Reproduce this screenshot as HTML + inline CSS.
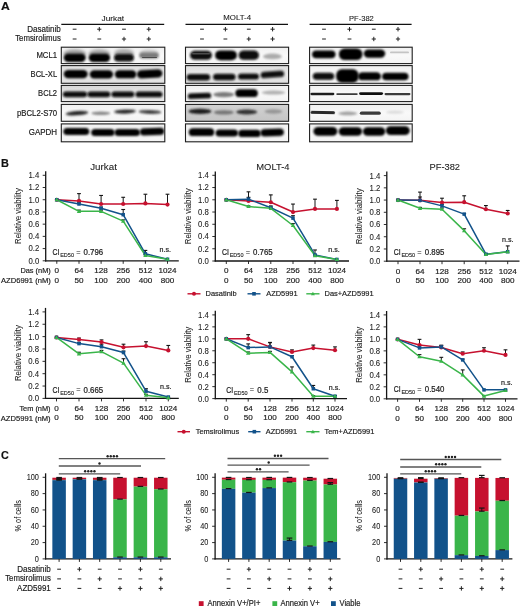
<!DOCTYPE html>
<html><head><meta charset="utf-8"><style>
html,body{margin:0;padding:0;background:#fff;}
svg{display:block;font-family:"Liberation Sans",sans-serif;}
</style></head><body>
<svg style="will-change:transform" width="520" height="608" viewBox="0 0 520 608">
<rect width="520" height="608" fill="#fff"/>
<text x="1.1" y="10.4" font-size="11.2" text-anchor="start" fill="#111" font-weight="bold" textLength="8.8" lengthAdjust="spacingAndGlyphs" stroke="#111" stroke-width="0.18" >A</text>
<text x="0.9" y="167.3" font-size="11" text-anchor="start" fill="#111" font-weight="bold" textLength="7.9" lengthAdjust="spacingAndGlyphs" stroke="#111" stroke-width="0.18" >B</text>
<text x="1.1" y="459.1" font-size="11" text-anchor="start" fill="#111" font-weight="bold" textLength="7.8" lengthAdjust="spacingAndGlyphs" stroke="#111" stroke-width="0.18" >C</text>
<text x="112.8" y="20.6" font-size="7.7" text-anchor="middle" fill="#1c1c1c" textLength="22.6" lengthAdjust="spacingAndGlyphs" stroke="#1c1c1c" stroke-width="0.1" >Jurkat</text>
<line x1="61.3" y1="24.3" x2="164.2" y2="24.3" stroke="#111" stroke-width="1.3" />
<line x1="72.7" y1="29.2" x2="76.5" y2="29.2" stroke="#222" stroke-width="1.0" />
<line x1="72.7" y1="39" x2="76.5" y2="39" stroke="#222" stroke-width="1.0" />
<line x1="97.2" y1="29.2" x2="101.4" y2="29.2" stroke="#222" stroke-width="1.0" />
<line x1="99.3" y1="27" x2="99.3" y2="31.4" stroke="#222" stroke-width="1.0" />
<line x1="97.4" y1="39" x2="101.2" y2="39" stroke="#222" stroke-width="1.0" />
<line x1="122.1" y1="29.2" x2="125.9" y2="29.2" stroke="#222" stroke-width="1.0" />
<line x1="121.9" y1="39" x2="126.1" y2="39" stroke="#222" stroke-width="1.0" />
<line x1="124" y1="36.8" x2="124" y2="41.2" stroke="#222" stroke-width="1.0" />
<line x1="146.7" y1="29.2" x2="150.9" y2="29.2" stroke="#222" stroke-width="1.0" />
<line x1="148.8" y1="27" x2="148.8" y2="31.4" stroke="#222" stroke-width="1.0" />
<line x1="146.7" y1="39" x2="150.9" y2="39" stroke="#222" stroke-width="1.0" />
<line x1="148.8" y1="36.8" x2="148.8" y2="41.2" stroke="#222" stroke-width="1.0" />
<text x="237.15" y="20.2" font-size="7.7" text-anchor="middle" fill="#1c1c1c" textLength="27.7" lengthAdjust="spacingAndGlyphs" stroke="#1c1c1c" stroke-width="0.1" >MOLT-4</text>
<line x1="185.5" y1="24.3" x2="288" y2="24.3" stroke="#111" stroke-width="1.3" />
<line x1="200.1" y1="29.2" x2="203.9" y2="29.2" stroke="#222" stroke-width="1.0" />
<line x1="200.1" y1="39" x2="203.9" y2="39" stroke="#222" stroke-width="1.0" />
<line x1="223.3" y1="29.2" x2="227.5" y2="29.2" stroke="#222" stroke-width="1.0" />
<line x1="225.4" y1="27" x2="225.4" y2="31.4" stroke="#222" stroke-width="1.0" />
<line x1="223.5" y1="39" x2="227.3" y2="39" stroke="#222" stroke-width="1.0" />
<line x1="246.9" y1="29.2" x2="250.7" y2="29.2" stroke="#222" stroke-width="1.0" />
<line x1="246.7" y1="39" x2="250.9" y2="39" stroke="#222" stroke-width="1.0" />
<line x1="248.8" y1="36.8" x2="248.8" y2="41.2" stroke="#222" stroke-width="1.0" />
<line x1="270.5" y1="29.2" x2="274.7" y2="29.2" stroke="#222" stroke-width="1.0" />
<line x1="272.6" y1="27" x2="272.6" y2="31.4" stroke="#222" stroke-width="1.0" />
<line x1="270.5" y1="39" x2="274.7" y2="39" stroke="#222" stroke-width="1.0" />
<line x1="272.6" y1="36.8" x2="272.6" y2="41.2" stroke="#222" stroke-width="1.0" />
<text x="361.45" y="20.5" font-size="8" text-anchor="middle" fill="#1c1c1c" textLength="24.7" lengthAdjust="spacingAndGlyphs" stroke="#1c1c1c" stroke-width="0.1" >PF-382</text>
<line x1="309.6" y1="24.3" x2="411.6" y2="24.3" stroke="#111" stroke-width="1.3" />
<line x1="322.1" y1="29.2" x2="325.9" y2="29.2" stroke="#222" stroke-width="1.0" />
<line x1="322.1" y1="39" x2="325.9" y2="39" stroke="#222" stroke-width="1.0" />
<line x1="347.4" y1="29.2" x2="351.6" y2="29.2" stroke="#222" stroke-width="1.0" />
<line x1="349.5" y1="27" x2="349.5" y2="31.4" stroke="#222" stroke-width="1.0" />
<line x1="347.6" y1="39" x2="351.4" y2="39" stroke="#222" stroke-width="1.0" />
<line x1="371.9" y1="29.2" x2="375.7" y2="29.2" stroke="#222" stroke-width="1.0" />
<line x1="371.7" y1="39" x2="375.9" y2="39" stroke="#222" stroke-width="1.0" />
<line x1="373.8" y1="36.8" x2="373.8" y2="41.2" stroke="#222" stroke-width="1.0" />
<line x1="395.9" y1="29.2" x2="400.1" y2="29.2" stroke="#222" stroke-width="1.0" />
<line x1="398" y1="27" x2="398" y2="31.4" stroke="#222" stroke-width="1.0" />
<line x1="395.9" y1="39" x2="400.1" y2="39" stroke="#222" stroke-width="1.0" />
<line x1="398" y1="36.8" x2="398" y2="41.2" stroke="#222" stroke-width="1.0" />
<text x="60.8" y="31.5" font-size="8.6" text-anchor="end" fill="#1c1c1c" textLength="33.5" lengthAdjust="spacingAndGlyphs" stroke="#1c1c1c" stroke-width="0.18" >Dasatinib</text>
<text x="60.8" y="41.3" font-size="8.6" text-anchor="end" fill="#1c1c1c" textLength="45.6" lengthAdjust="spacingAndGlyphs" stroke="#1c1c1c" stroke-width="0.18" >Temsirolimus</text>
<text x="57.1" y="58.1" font-size="8.3" text-anchor="end" fill="#1c1c1c" textLength="20.7" lengthAdjust="spacingAndGlyphs" stroke="#1c1c1c" stroke-width="0.18" >MCL1</text>
<text x="57.1" y="77.1" font-size="8.3" text-anchor="end" fill="#1c1c1c" textLength="26.5" lengthAdjust="spacingAndGlyphs" stroke="#1c1c1c" stroke-width="0.18" >BCL-XL</text>
<text x="57.1" y="96" font-size="8.3" text-anchor="end" fill="#1c1c1c" textLength="19" lengthAdjust="spacingAndGlyphs" stroke="#1c1c1c" stroke-width="0.18" >BCL2</text>
<text x="57.1" y="115.6" font-size="8.3" text-anchor="end" fill="#1c1c1c" textLength="40.1" lengthAdjust="spacingAndGlyphs" stroke="#1c1c1c" stroke-width="0.18" >pBCL2-S70</text>
<text x="57.1" y="135.2" font-size="8.3" text-anchor="end" fill="#1c1c1c" textLength="28.3" lengthAdjust="spacingAndGlyphs" stroke="#1c1c1c" stroke-width="0.18" >GAPDH</text>
<defs>
<filter id="bl6" x="-50%" y="-150%" width="200%" height="400%"><feGaussianBlur stdDeviation="0.6"/></filter>
<filter id="bl7" x="-50%" y="-150%" width="200%" height="400%"><feGaussianBlur stdDeviation="0.7"/></filter>
<filter id="bl8" x="-50%" y="-150%" width="200%" height="400%"><feGaussianBlur stdDeviation="0.8"/></filter>
<filter id="bl8" x="-50%" y="-150%" width="200%" height="400%"><feGaussianBlur stdDeviation="0.85"/></filter>
<filter id="bl9" x="-50%" y="-150%" width="200%" height="400%"><feGaussianBlur stdDeviation="0.9"/></filter>
<filter id="bl10" x="-50%" y="-150%" width="200%" height="400%"><feGaussianBlur stdDeviation="1.0"/></filter>
<filter id="bl11" x="-50%" y="-150%" width="200%" height="400%"><feGaussianBlur stdDeviation="1.1"/></filter>
<filter id="bl12" x="-50%" y="-150%" width="200%" height="400%"><feGaussianBlur stdDeviation="1.2"/></filter>
<filter id="bl18" x="-50%" y="-150%" width="200%" height="400%"><feGaussianBlur stdDeviation="1.8"/></filter>
<linearGradient id="gbg" x1="0" y1="0" x2="0" y2="1"><stop offset="0" stop-color="#f0f0f0"/><stop offset="0.5" stop-color="#f9f9f9"/><stop offset="1" stop-color="#f4f4f4"/></linearGradient>
<linearGradient id="gbgg" x1="0" y1="0" x2="0" y2="1"><stop offset="0" stop-color="#dedede"/><stop offset="0.5" stop-color="#eaeaea"/><stop offset="1" stop-color="#e0e0e0"/></linearGradient>
<linearGradient id="gbgt" x1="0" y1="0" x2="0" y2="1"><stop offset="0" stop-color="#d6d6d6"/><stop offset="0.6" stop-color="#eeeeee"/><stop offset="1" stop-color="#e8e8e8"/></linearGradient>
<linearGradient id="gbg2" x1="0" y1="0" x2="0" y2="1"><stop offset="0" stop-color="#d2d2d2"/><stop offset="1" stop-color="#c4c4c4"/></linearGradient>
<clipPath id="c0"><rect x="61.3" y="47.2" width="103.5" height="16.4"/></clipPath>
<clipPath id="c1"><rect x="61.3" y="65.6" width="103.5" height="17.7"/></clipPath>
<clipPath id="c2"><rect x="61.3" y="85.4" width="103.5" height="16.2"/></clipPath>
<clipPath id="c3"><rect x="61.3" y="104.4" width="103.5" height="16.9"/></clipPath>
<clipPath id="c4"><rect x="61.3" y="123.9" width="103.5" height="17.9"/></clipPath>
<clipPath id="c5"><rect x="185.5" y="47.2" width="103.1" height="16.4"/></clipPath>
<clipPath id="c6"><rect x="185.5" y="65.6" width="103.1" height="17.7"/></clipPath>
<clipPath id="c7"><rect x="185.5" y="85.4" width="103.1" height="16.2"/></clipPath>
<clipPath id="c8"><rect x="185.5" y="104.4" width="103.1" height="16.9"/></clipPath>
<clipPath id="c9"><rect x="185.5" y="123.9" width="103.1" height="17.9"/></clipPath>
<clipPath id="c10"><rect x="309.6" y="47.2" width="102.6" height="16.4"/></clipPath>
<clipPath id="c11"><rect x="309.6" y="65.6" width="102.6" height="17.7"/></clipPath>
<clipPath id="c12"><rect x="309.6" y="85.4" width="102.6" height="16.2"/></clipPath>
<clipPath id="c13"><rect x="309.6" y="104.4" width="102.6" height="16.9"/></clipPath>
<clipPath id="c14"><rect x="309.6" y="123.9" width="102.6" height="17.9"/></clipPath>
</defs>
<rect x="61.3" y="47.2" width="103.5" height="16.4" fill="url(#gbg)"/>
<g clip-path="url(#c0)">
<ellipse cx="74.7" cy="54" rx="11.5" ry="4.5" fill="#9a9a9a" filter="url(#bl18)"/>
<ellipse cx="99.4" cy="54" rx="11" ry="4.5" fill="#a0a0a0" filter="url(#bl18)"/>
<ellipse cx="124" cy="53.5" rx="10" ry="4.5" fill="#a8a8a8" filter="url(#bl18)"/>
<ellipse cx="149" cy="53" rx="9.5" ry="3.5" fill="#c8c8c8" filter="url(#bl18)"/>
<rect x="63.7" y="53.7" width="22" height="8.2" rx="4.51" ry="4.1" fill="#030303" filter="url(#bl9)"/>
<rect x="88.65" y="53.7" width="21.5" height="8.2" rx="4.51" ry="4.1" fill="#030303" filter="url(#bl9)"/>
<rect x="114" y="54" width="20" height="7.6" rx="4.18" ry="3.8" fill="#080808" filter="url(#bl9)"/>
<rect x="139.25" y="52.6" width="19.5" height="6" rx="3.3" ry="3" fill="#7a7a7a" filter="url(#bl10)"/>
<rect x="142" y="56.9" width="15" height="1" rx="0.55" ry="0.5" fill="#4a4a4a" filter="url(#bl6)"/>
</g>
<rect x="61.3" y="47.2" width="103.5" height="16.4" fill="none" stroke="#1e1e1e" stroke-width="1.1"/>
<rect x="61.3" y="65.6" width="103.5" height="17.7" fill="url(#gbgg)"/>
<g clip-path="url(#c1)">
<rect x="63.7" y="70" width="24" height="8.2" rx="4.51" ry="4.1" fill="#060606" filter="url(#bl9)"/>
<rect x="89.7" y="70.2" width="23.4" height="8.2" rx="4.51" ry="4.1" fill="#060606" filter="url(#bl9)"/>
<rect x="114.85" y="70.3" width="21.5" height="8" rx="4.4" ry="4" fill="#060606" filter="url(#bl9)"/>
<rect x="136.95" y="69.8" width="25.5" height="8.2" rx="4.51" ry="4.1" fill="#060606" filter="url(#bl9)" transform="rotate(-3 149.7 73.9)"/>
</g>
<rect x="61.3" y="65.6" width="103.5" height="17.7" fill="none" stroke="#1e1e1e" stroke-width="1.1"/>
<rect x="61.3" y="85.4" width="103.5" height="16.2" fill="url(#gbgt)"/>
<g clip-path="url(#c2)">
<rect x="62.85" y="91.4" width="24.3" height="5.8" rx="3.19" ry="2.9" fill="#080808" filter="url(#bl9)"/>
<rect x="87.4" y="91.4" width="23" height="5.8" rx="3.19" ry="2.9" fill="#080808" filter="url(#bl9)"/>
<rect x="111.4" y="91.4" width="23" height="5.8" rx="3.19" ry="2.9" fill="#080808" filter="url(#bl9)"/>
<rect x="135.5" y="91.5" width="27" height="5.8" rx="3.19" ry="2.9" fill="#0c0c0c" filter="url(#bl9)"/>
</g>
<rect x="61.3" y="85.4" width="103.5" height="16.2" fill="none" stroke="#1e1e1e" stroke-width="1.1"/>
<rect x="61.3" y="104.4" width="103.5" height="16.9" fill="url(#gbg)"/>
<g clip-path="url(#c3)">
<ellipse cx="77" cy="113.2" rx="11.5" ry="2.1" fill="#222" filter="url(#bl8)" transform="rotate(-4 77 113.2)"/>
<ellipse cx="100.8" cy="113.3" rx="9.5" ry="1.7" fill="#888" filter="url(#bl8)"/>
<ellipse cx="125" cy="111.6" rx="11" ry="2.1" fill="#2a2a2a" filter="url(#bl8)" transform="rotate(-2 125 111.6)"/>
<ellipse cx="150" cy="111.9" rx="11.5" ry="2" fill="#3c3c3c" filter="url(#bl8)" transform="rotate(2 150 111.9)"/>
</g>
<rect x="61.3" y="104.4" width="103.5" height="16.9" fill="none" stroke="#1e1e1e" stroke-width="1.1"/>
<rect x="61.3" y="123.9" width="103.5" height="17.9" fill="url(#gbg)"/>
<g clip-path="url(#c4)">
<rect x="63.3" y="128" width="26" height="7" rx="3.85" ry="3.5" fill="#040404" filter="url(#bl9)"/>
<rect x="91.15" y="129.1" width="23.5" height="7" rx="3.85" ry="3.5" fill="#040404" filter="url(#bl9)"/>
<rect x="114.55" y="128.9" width="25.5" height="7.2" rx="3.96" ry="3.6" fill="#040404" filter="url(#bl9)"/>
<rect x="139.85" y="128" width="24.5" height="7.2" rx="3.96" ry="3.6" fill="#040404" filter="url(#bl9)" transform="rotate(-2 152.1 131.6)"/>
</g>
<rect x="61.3" y="123.9" width="103.5" height="17.9" fill="none" stroke="#1e1e1e" stroke-width="1.1"/>
<rect x="185.5" y="47.2" width="103.1" height="16.4" fill="url(#gbg)"/>
<g clip-path="url(#c5)">
<rect x="190" y="50.7" width="22" height="9" rx="4.95" ry="4.5" fill="#101010" filter="url(#bl9)"/>
<rect x="192" y="53" width="18" height="1.4" rx="0.77" ry="0.7" fill="#4c4c4c" filter="url(#bl7)"/>
<rect x="215.25" y="50.4" width="21.5" height="9.8" rx="5.38" ry="3.92" fill="#040404" filter="url(#bl9)"/>
<rect x="238.8" y="50.6" width="20" height="9.2" rx="5" ry="3.68" fill="#080808" filter="url(#bl9)"/>
<ellipse cx="272.4" cy="56.4" rx="9.5" ry="2.8" fill="#ababab" filter="url(#bl12)"/>
</g>
<rect x="185.5" y="47.2" width="103.1" height="16.4" fill="none" stroke="#1e1e1e" stroke-width="1.1"/>
<rect x="185.5" y="65.6" width="103.1" height="17.7" fill="url(#gbgg)"/>
<g clip-path="url(#c6)">
<rect x="186.65" y="74.1" width="23.5" height="6.4" rx="3.52" ry="3.2" fill="#0c0c0c" filter="url(#bl9)"/>
<rect x="213.05" y="73.8" width="22.5" height="6.4" rx="3.52" ry="3.2" fill="#0c0c0c" filter="url(#bl9)"/>
<rect x="238" y="73.4" width="21" height="6.2" rx="3.41" ry="3.1" fill="#101010" filter="url(#bl9)"/>
<rect x="260.65" y="71.2" width="23.5" height="6.4" rx="3.52" ry="3.2" fill="#0c0c0c" filter="url(#bl9)" transform="rotate(-4 272.4 74.4)"/>
</g>
<rect x="185.5" y="65.6" width="103.1" height="17.7" fill="none" stroke="#1e1e1e" stroke-width="1.1"/>
<rect x="185.5" y="85.4" width="103.1" height="16.2" fill="url(#gbg)"/>
<g clip-path="url(#c7)">
<rect x="187.75" y="93.05" width="23.5" height="5.7" rx="3.14" ry="2.85" fill="#101010" filter="url(#bl9)" transform="rotate(-2 199.5 95.9)"/>
<ellipse cx="223.7" cy="94.6" rx="10.5" ry="2.6" fill="#7a7a7a" filter="url(#bl11)"/>
<rect x="235.35" y="89.3" width="22.5" height="7.8" rx="4.29" ry="3.9" fill="#030303" filter="url(#bl9)"/>
<ellipse cx="273.5" cy="92.6" rx="12" ry="2" fill="#b0b0b0" filter="url(#bl11)"/>
</g>
<rect x="185.5" y="85.4" width="103.1" height="16.2" fill="none" stroke="#1e1e1e" stroke-width="1.1"/>
<rect x="185.5" y="104.4" width="103.1" height="16.9" fill="url(#gbg2)"/>
<g clip-path="url(#c8)">
<ellipse cx="200" cy="111.4" rx="11.5" ry="2.6" fill="#1e1e1e" filter="url(#bl8)"/>
<ellipse cx="223.8" cy="112.4" rx="10" ry="2.2" fill="#747474" filter="url(#bl9)"/>
<ellipse cx="246.7" cy="112" rx="10.5" ry="2.6" fill="#333" filter="url(#bl8)"/>
<ellipse cx="273.5" cy="111.5" rx="9" ry="2.2" fill="#959595" filter="url(#bl10)"/>
</g>
<rect x="185.5" y="104.4" width="103.1" height="16.9" fill="none" stroke="#1e1e1e" stroke-width="1.1"/>
<rect x="185.5" y="123.9" width="103.1" height="17.9" fill="url(#gbg)"/>
<g clip-path="url(#c9)">
<rect x="188.75" y="128.3" width="25.5" height="7.8" rx="4.29" ry="3.9" fill="#040404" filter="url(#bl9)"/>
<rect x="215.55" y="129.4" width="22.5" height="7.2" rx="3.96" ry="3.6" fill="#040404" filter="url(#bl9)"/>
<rect x="238.25" y="129.8" width="22.5" height="7.2" rx="3.96" ry="3.6" fill="#040404" filter="url(#bl9)"/>
<rect x="260.45" y="128.7" width="23.5" height="7.6" rx="4.18" ry="3.8" fill="#040404" filter="url(#bl9)" transform="rotate(-2 272.2 132.5)"/>
</g>
<rect x="185.5" y="123.9" width="103.1" height="17.9" fill="none" stroke="#1e1e1e" stroke-width="1.1"/>
<rect x="309.6" y="47.2" width="102.6" height="16.4" fill="url(#gbg)"/>
<g clip-path="url(#c10)">
<rect x="312.05" y="50.4" width="23.5" height="7.8" rx="4.29" ry="3.9" fill="#050505" filter="url(#bl9)"/>
<rect x="338.95" y="48.6" width="23.5" height="11.4" rx="5.88" ry="5.13" fill="#020202" filter="url(#bl9)"/>
<rect x="363.75" y="49.5" width="21.5" height="8.2" rx="4.51" ry="4.1" fill="#050505" filter="url(#bl9)"/>
<rect x="390" y="51.45" width="19" height="1.9" rx="1.04" ry="0.95" fill="#c4c4c4" filter="url(#bl6)"/>
</g>
<rect x="309.6" y="47.2" width="102.6" height="16.4" fill="none" stroke="#1e1e1e" stroke-width="1.1"/>
<rect x="309.6" y="65.6" width="102.6" height="17.7" fill="url(#gbg)"/>
<g clip-path="url(#c11)">
<rect x="312.75" y="72.8" width="21.5" height="7" rx="3.85" ry="3.5" fill="#080808" filter="url(#bl9)"/>
<rect x="336.15" y="69.35" width="22.5" height="13.3" rx="5.62" ry="5.99" fill="#020202" filter="url(#bl9)"/>
<rect x="358" y="72.3" width="23" height="8" rx="4.4" ry="4" fill="#040404" filter="url(#bl9)"/>
<rect x="382.05" y="72.7" width="26.5" height="7.6" rx="4.18" ry="3.8" fill="#060606" filter="url(#bl9)"/>
</g>
<rect x="309.6" y="65.6" width="102.6" height="17.7" fill="none" stroke="#1e1e1e" stroke-width="1.1"/>
<rect x="309.6" y="85.4" width="102.6" height="16.2" fill="url(#gbg)"/>
<g clip-path="url(#c12)">
<rect x="310.4" y="92.85" width="24" height="2.3" rx="1.26" ry="1.15" fill="#1e1e1e" filter="url(#bl7)"/>
<rect x="336.25" y="93.15" width="21.5" height="1.9" rx="1.04" ry="0.95" fill="#3a3a3a" filter="url(#bl7)"/>
<rect x="359.1" y="92.15" width="24" height="2.9" rx="1.6" ry="1.45" fill="#101010" filter="url(#bl7)"/>
<rect x="384.5" y="93.05" width="26" height="2.1" rx="1.15" ry="1.05" fill="#3a3a3a" filter="url(#bl7)"/>
</g>
<rect x="309.6" y="85.4" width="102.6" height="16.2" fill="none" stroke="#1e1e1e" stroke-width="1.1"/>
<rect x="309.6" y="104.4" width="102.6" height="16.9" fill="url(#gbg)"/>
<g clip-path="url(#c13)">
<rect x="310.55" y="111" width="24.5" height="3" rx="1.65" ry="1.5" fill="#2a2a2a" filter="url(#bl7)" transform="rotate(1 322.8 112.5)"/>
<ellipse cx="347.8" cy="113.4" rx="9.5" ry="1.8" fill="#a0a0a0" filter="url(#bl9)"/>
<rect x="359.8" y="111.6" width="21" height="3.2" rx="1.76" ry="1.6" fill="#3a3a3a" filter="url(#bl7)"/>
<ellipse cx="394.9" cy="112.2" rx="9" ry="1.4" fill="#d8d8d8" filter="url(#bl10)"/>
</g>
<rect x="309.6" y="104.4" width="102.6" height="16.9" fill="none" stroke="#1e1e1e" stroke-width="1.1"/>
<rect x="309.6" y="123.9" width="102.6" height="17.9" fill="url(#gbg)"/>
<g clip-path="url(#c14)">
<rect x="313.4" y="126.9" width="24" height="8.8" rx="4.84" ry="4.4" fill="#020202" filter="url(#bl9)"/>
<rect x="338.65" y="127.3" width="23.5" height="8.4" rx="4.62" ry="4.2" fill="#020202" filter="url(#bl9)"/>
<rect x="362.85" y="127.3" width="22.5" height="8.4" rx="4.62" ry="4.2" fill="#020202" filter="url(#bl9)"/>
<rect x="385.8" y="126.3" width="24" height="8.6" rx="4.73" ry="4.3" fill="#020202" filter="url(#bl9)"/>
</g>
<rect x="309.6" y="123.9" width="102.6" height="17.9" fill="none" stroke="#1e1e1e" stroke-width="1.1"/>
<line x1="45.7" y1="171.3" x2="45.7" y2="261.4" stroke="#151515" stroke-width="1.3" />
<line x1="45.1" y1="260.8" x2="178.8" y2="260.8" stroke="#151515" stroke-width="1.3" />
<line x1="42.7" y1="260.8" x2="45.7" y2="260.8" stroke="#1a1a1a" stroke-width="0.9" />
<text x="39.3" y="263.7" font-size="8.5" text-anchor="end" fill="#1c1c1c" textLength="10.8" lengthAdjust="spacingAndGlyphs" stroke="#1c1c1c" stroke-width="0.08" >0.0</text>
<line x1="42.7" y1="248.59" x2="45.7" y2="248.59" stroke="#1a1a1a" stroke-width="0.9" />
<text x="39.3" y="251.49" font-size="8.5" text-anchor="end" fill="#1c1c1c" textLength="10.8" lengthAdjust="spacingAndGlyphs" stroke="#1c1c1c" stroke-width="0.08" >0.2</text>
<line x1="42.7" y1="236.37" x2="45.7" y2="236.37" stroke="#1a1a1a" stroke-width="0.9" />
<text x="39.3" y="239.27" font-size="8.5" text-anchor="end" fill="#1c1c1c" textLength="10.8" lengthAdjust="spacingAndGlyphs" stroke="#1c1c1c" stroke-width="0.08" >0.4</text>
<line x1="42.7" y1="224.16" x2="45.7" y2="224.16" stroke="#1a1a1a" stroke-width="0.9" />
<text x="39.3" y="227.06" font-size="8.5" text-anchor="end" fill="#1c1c1c" textLength="10.8" lengthAdjust="spacingAndGlyphs" stroke="#1c1c1c" stroke-width="0.08" >0.6</text>
<line x1="42.7" y1="211.94" x2="45.7" y2="211.94" stroke="#1a1a1a" stroke-width="0.9" />
<text x="39.3" y="214.84" font-size="8.5" text-anchor="end" fill="#1c1c1c" textLength="10.8" lengthAdjust="spacingAndGlyphs" stroke="#1c1c1c" stroke-width="0.08" >0.8</text>
<line x1="42.7" y1="199.73" x2="45.7" y2="199.73" stroke="#1a1a1a" stroke-width="0.9" />
<text x="39.3" y="202.63" font-size="8.5" text-anchor="end" fill="#1c1c1c" textLength="10.8" lengthAdjust="spacingAndGlyphs" stroke="#1c1c1c" stroke-width="0.08" >1.0</text>
<line x1="42.7" y1="187.51" x2="45.7" y2="187.51" stroke="#1a1a1a" stroke-width="0.9" />
<text x="39.3" y="190.41" font-size="8.5" text-anchor="end" fill="#1c1c1c" textLength="10.8" lengthAdjust="spacingAndGlyphs" stroke="#1c1c1c" stroke-width="0.08" >1.2</text>
<line x1="42.7" y1="175.3" x2="45.7" y2="175.3" stroke="#1a1a1a" stroke-width="0.9" />
<text x="39.3" y="178.2" font-size="8.5" text-anchor="end" fill="#1c1c1c" textLength="10.8" lengthAdjust="spacingAndGlyphs" stroke="#1c1c1c" stroke-width="0.08" >1.4</text>
<line x1="56.8" y1="260.8" x2="56.8" y2="263.8" stroke="#1a1a1a" stroke-width="0.9" />
<text x="56.8" y="273.1" font-size="8.1" text-anchor="middle" fill="#1c1c1c" stroke="#1c1c1c" stroke-width="0.18" >0</text>
<text x="56.8" y="282.6" font-size="8.1" text-anchor="middle" fill="#1c1c1c" stroke="#1c1c1c" stroke-width="0.18" >0</text>
<line x1="79" y1="260.8" x2="79" y2="263.8" stroke="#1a1a1a" stroke-width="0.9" />
<text x="79" y="273.1" font-size="8.1" text-anchor="middle" fill="#1c1c1c" stroke="#1c1c1c" stroke-width="0.18" >64</text>
<text x="79" y="282.6" font-size="8.1" text-anchor="middle" fill="#1c1c1c" stroke="#1c1c1c" stroke-width="0.18" >50</text>
<line x1="101.1" y1="260.8" x2="101.1" y2="263.8" stroke="#1a1a1a" stroke-width="0.9" />
<text x="101.1" y="273.1" font-size="8.1" text-anchor="middle" fill="#1c1c1c" stroke="#1c1c1c" stroke-width="0.18" >128</text>
<text x="101.1" y="282.6" font-size="8.1" text-anchor="middle" fill="#1c1c1c" stroke="#1c1c1c" stroke-width="0.18" >100</text>
<line x1="123.2" y1="260.8" x2="123.2" y2="263.8" stroke="#1a1a1a" stroke-width="0.9" />
<text x="123.2" y="273.1" font-size="8.1" text-anchor="middle" fill="#1c1c1c" stroke="#1c1c1c" stroke-width="0.18" >256</text>
<text x="123.2" y="282.6" font-size="8.1" text-anchor="middle" fill="#1c1c1c" stroke="#1c1c1c" stroke-width="0.18" >200</text>
<line x1="145.4" y1="260.8" x2="145.4" y2="263.8" stroke="#1a1a1a" stroke-width="0.9" />
<text x="145.4" y="273.1" font-size="8.1" text-anchor="middle" fill="#1c1c1c" stroke="#1c1c1c" stroke-width="0.18" >512</text>
<text x="145.4" y="282.6" font-size="8.1" text-anchor="middle" fill="#1c1c1c" stroke="#1c1c1c" stroke-width="0.18" >400</text>
<line x1="167.5" y1="260.8" x2="167.5" y2="263.8" stroke="#1a1a1a" stroke-width="0.9" />
<text x="167.5" y="273.1" font-size="8.1" text-anchor="middle" fill="#1c1c1c" stroke="#1c1c1c" stroke-width="0.18" >1024</text>
<text x="167.5" y="282.6" font-size="8.1" text-anchor="middle" fill="#1c1c1c" stroke="#1c1c1c" stroke-width="0.18" >800</text>
<text x="50.8" y="273.4" font-size="7.4" text-anchor="end" fill="#1c1c1c" stroke="#1c1c1c" stroke-width="0.18" >Das (nM)</text>
<text x="50.8" y="282.9" font-size="7.6" text-anchor="end" fill="#1c1c1c" stroke="#1c1c1c" stroke-width="0.18" >AZD6991 (nM)</text>
<text transform="translate(21,216.05) rotate(-90)" x="0" y="0" font-size="8.6" textLength="55.9" lengthAdjust="spacingAndGlyphs" stroke="#1c1c1c" stroke-width="0.05" text-anchor="middle" fill="#1c1c1c">Relative viability</text>
<text x="103.55" y="169.5" font-size="9.3" text-anchor="middle" fill="#1c1c1c" textLength="26.7" lengthAdjust="spacingAndGlyphs" stroke="#1c1c1c" stroke-width="0.08" >Jurkat</text>
<text x="52.6" y="255.2" font-size="8.8" text-anchor="start" fill="#1c1c1c" textLength="6.9" lengthAdjust="spacingAndGlyphs" stroke="#1c1c1c" stroke-width="0.22" >CI</text>
<text x="60.2" y="257.2" font-size="6" text-anchor="start" fill="#1c1c1c" textLength="13.8" lengthAdjust="spacingAndGlyphs" stroke="#1c1c1c" stroke-width="0.12" >ED50</text>
<text x="78.3" y="255" font-size="7.4" text-anchor="middle" fill="#1c1c1c" stroke="#1c1c1c" stroke-width="0.05" >=</text>
<text x="83.6" y="255.2" font-size="8.7" text-anchor="start" fill="#1c1c1c" textLength="19.6" lengthAdjust="spacingAndGlyphs" stroke="#1c1c1c" stroke-width="0.22" >0.796</text>
<text x="159.5" y="252" font-size="7.1" text-anchor="start" fill="#1c1c1c" stroke="#1c1c1c" stroke-width="0.18" >n.s.</text>
<line x1="79" y1="200.95" x2="79" y2="193.62" stroke="#151515" stroke-width="1.0" />
<line x1="77.1" y1="193.62" x2="80.9" y2="193.62" stroke="#151515" stroke-width="1.1" />
<line x1="101.1" y1="204" x2="101.1" y2="195.45" stroke="#151515" stroke-width="1.0" />
<line x1="99.2" y1="195.45" x2="103" y2="195.45" stroke="#151515" stroke-width="1.1" />
<line x1="123.2" y1="204" x2="123.2" y2="197.29" stroke="#151515" stroke-width="1.0" />
<line x1="121.3" y1="197.29" x2="125.1" y2="197.29" stroke="#151515" stroke-width="1.1" />
<line x1="145.4" y1="203.39" x2="145.4" y2="194.23" stroke="#151515" stroke-width="1.0" />
<line x1="143.5" y1="194.23" x2="147.3" y2="194.23" stroke="#151515" stroke-width="1.1" />
<line x1="167.5" y1="204.61" x2="167.5" y2="194.23" stroke="#151515" stroke-width="1.0" />
<line x1="165.6" y1="194.23" x2="169.4" y2="194.23" stroke="#151515" stroke-width="1.1" />
<line x1="79" y1="204" x2="79" y2="202.78" stroke="#151515" stroke-width="1.0" />
<line x1="77.1" y1="202.78" x2="80.9" y2="202.78" stroke="#151515" stroke-width="1.1" />
<line x1="101.1" y1="208.28" x2="101.1" y2="207.06" stroke="#151515" stroke-width="1.0" />
<line x1="99.2" y1="207.06" x2="103" y2="207.06" stroke="#151515" stroke-width="1.1" />
<line x1="123.2" y1="214.69" x2="123.2" y2="209.5" stroke="#151515" stroke-width="1.0" />
<line x1="121.3" y1="209.5" x2="125.1" y2="209.5" stroke="#151515" stroke-width="1.1" />
<line x1="145.4" y1="253.78" x2="145.4" y2="250.42" stroke="#151515" stroke-width="1.0" />
<line x1="143.5" y1="250.42" x2="147.3" y2="250.42" stroke="#151515" stroke-width="1.1" />
<line x1="79" y1="211.33" x2="79" y2="210.11" stroke="#151515" stroke-width="1.0" />
<line x1="77.1" y1="210.11" x2="80.9" y2="210.11" stroke="#151515" stroke-width="1.1" />
<line x1="101.1" y1="211.33" x2="101.1" y2="210.11" stroke="#151515" stroke-width="1.0" />
<line x1="99.2" y1="210.11" x2="103" y2="210.11" stroke="#151515" stroke-width="1.1" />
<line x1="123.2" y1="221.1" x2="123.2" y2="219.88" stroke="#151515" stroke-width="1.0" />
<line x1="121.3" y1="219.88" x2="125.1" y2="219.88" stroke="#151515" stroke-width="1.1" />
<line x1="145.4" y1="255.49" x2="145.4" y2="254.69" stroke="#151515" stroke-width="1.0" />
<line x1="143.5" y1="254.69" x2="147.3" y2="254.69" stroke="#151515" stroke-width="1.1" />
<polyline points="56.8,199.73 79,200.95 101.1,204 123.2,204 145.4,203.39 167.5,204.61" fill="none" stroke="#c6112f" stroke-width="1.5" stroke-linejoin="round"/>
<polyline points="56.8,199.73 79,204 101.1,208.28 123.2,214.69 145.4,253.78 167.5,259.27" fill="none" stroke="#12528a" stroke-width="1.5" stroke-linejoin="round"/>
<polyline points="56.8,199.73 79,211.33 101.1,211.33 123.2,221.1 145.4,255.49 167.5,259.27" fill="none" stroke="#3ab54a" stroke-width="1.5" stroke-linejoin="round"/>
<circle cx="56.8" cy="199.73" r="2.1" fill="#c6112f"/>
<circle cx="79" cy="200.95" r="2.1" fill="#c6112f"/>
<circle cx="101.1" cy="204" r="2.1" fill="#c6112f"/>
<circle cx="123.2" cy="204" r="2.1" fill="#c6112f"/>
<circle cx="145.4" cy="203.39" r="2.1" fill="#c6112f"/>
<circle cx="167.5" cy="204.61" r="2.1" fill="#c6112f"/>
<rect x="55.05" y="197.98" width="3.5" height="3.5" fill="#12528a"/>
<rect x="77.25" y="202.25" width="3.5" height="3.5" fill="#12528a"/>
<rect x="99.35" y="206.53" width="3.5" height="3.5" fill="#12528a"/>
<rect x="121.45" y="212.94" width="3.5" height="3.5" fill="#12528a"/>
<rect x="143.65" y="252.03" width="3.5" height="3.5" fill="#12528a"/>
<rect x="165.75" y="257.52" width="3.5" height="3.5" fill="#12528a"/>
<path d="M56.8,197.53 L59,201.33 L54.6,201.33 Z" fill="#3ab54a"/>
<path d="M79,209.13 L81.2,212.93 L76.8,212.93 Z" fill="#3ab54a"/>
<path d="M101.1,209.13 L103.3,212.93 L98.9,212.93 Z" fill="#3ab54a"/>
<path d="M123.2,218.9 L125.4,222.7 L121,222.7 Z" fill="#3ab54a"/>
<path d="M145.4,253.29 L147.6,257.09 L143.2,257.09 Z" fill="#3ab54a"/>
<path d="M167.5,257.07 L169.7,260.87 L165.3,260.87 Z" fill="#3ab54a"/>
<line x1="215.3" y1="171.5" x2="215.3" y2="261.6" stroke="#151515" stroke-width="1.3" />
<line x1="214.7" y1="261" x2="349" y2="261" stroke="#151515" stroke-width="1.3" />
<line x1="212.3" y1="261" x2="215.3" y2="261" stroke="#1a1a1a" stroke-width="0.9" />
<text x="208.9" y="263.9" font-size="8.5" text-anchor="end" fill="#1c1c1c" textLength="10.8" lengthAdjust="spacingAndGlyphs" stroke="#1c1c1c" stroke-width="0.08" >0.0</text>
<line x1="212.3" y1="248.76" x2="215.3" y2="248.76" stroke="#1a1a1a" stroke-width="0.9" />
<text x="208.9" y="251.66" font-size="8.5" text-anchor="end" fill="#1c1c1c" textLength="10.8" lengthAdjust="spacingAndGlyphs" stroke="#1c1c1c" stroke-width="0.08" >0.2</text>
<line x1="212.3" y1="236.51" x2="215.3" y2="236.51" stroke="#1a1a1a" stroke-width="0.9" />
<text x="208.9" y="239.41" font-size="8.5" text-anchor="end" fill="#1c1c1c" textLength="10.8" lengthAdjust="spacingAndGlyphs" stroke="#1c1c1c" stroke-width="0.08" >0.4</text>
<line x1="212.3" y1="224.27" x2="215.3" y2="224.27" stroke="#1a1a1a" stroke-width="0.9" />
<text x="208.9" y="227.17" font-size="8.5" text-anchor="end" fill="#1c1c1c" textLength="10.8" lengthAdjust="spacingAndGlyphs" stroke="#1c1c1c" stroke-width="0.08" >0.6</text>
<line x1="212.3" y1="212.03" x2="215.3" y2="212.03" stroke="#1a1a1a" stroke-width="0.9" />
<text x="208.9" y="214.93" font-size="8.5" text-anchor="end" fill="#1c1c1c" textLength="10.8" lengthAdjust="spacingAndGlyphs" stroke="#1c1c1c" stroke-width="0.08" >0.8</text>
<line x1="212.3" y1="199.79" x2="215.3" y2="199.79" stroke="#1a1a1a" stroke-width="0.9" />
<text x="208.9" y="202.69" font-size="8.5" text-anchor="end" fill="#1c1c1c" textLength="10.8" lengthAdjust="spacingAndGlyphs" stroke="#1c1c1c" stroke-width="0.08" >1.0</text>
<line x1="212.3" y1="187.54" x2="215.3" y2="187.54" stroke="#1a1a1a" stroke-width="0.9" />
<text x="208.9" y="190.44" font-size="8.5" text-anchor="end" fill="#1c1c1c" textLength="10.8" lengthAdjust="spacingAndGlyphs" stroke="#1c1c1c" stroke-width="0.08" >1.2</text>
<line x1="212.3" y1="175.3" x2="215.3" y2="175.3" stroke="#1a1a1a" stroke-width="0.9" />
<text x="208.9" y="178.2" font-size="8.5" text-anchor="end" fill="#1c1c1c" textLength="10.8" lengthAdjust="spacingAndGlyphs" stroke="#1c1c1c" stroke-width="0.08" >1.4</text>
<line x1="226.3" y1="261" x2="226.3" y2="264" stroke="#1a1a1a" stroke-width="0.9" />
<text x="226.3" y="273.3" font-size="8.1" text-anchor="middle" fill="#1c1c1c" stroke="#1c1c1c" stroke-width="0.18" >0</text>
<text x="226.3" y="282.8" font-size="8.1" text-anchor="middle" fill="#1c1c1c" stroke="#1c1c1c" stroke-width="0.18" >0</text>
<line x1="248.5" y1="261" x2="248.5" y2="264" stroke="#1a1a1a" stroke-width="0.9" />
<text x="248.5" y="273.3" font-size="8.1" text-anchor="middle" fill="#1c1c1c" stroke="#1c1c1c" stroke-width="0.18" >64</text>
<text x="248.5" y="282.8" font-size="8.1" text-anchor="middle" fill="#1c1c1c" stroke="#1c1c1c" stroke-width="0.18" >50</text>
<line x1="270.8" y1="261" x2="270.8" y2="264" stroke="#1a1a1a" stroke-width="0.9" />
<text x="270.8" y="273.3" font-size="8.1" text-anchor="middle" fill="#1c1c1c" stroke="#1c1c1c" stroke-width="0.18" >128</text>
<text x="270.8" y="282.8" font-size="8.1" text-anchor="middle" fill="#1c1c1c" stroke="#1c1c1c" stroke-width="0.18" >100</text>
<line x1="293" y1="261" x2="293" y2="264" stroke="#1a1a1a" stroke-width="0.9" />
<text x="293" y="273.3" font-size="8.1" text-anchor="middle" fill="#1c1c1c" stroke="#1c1c1c" stroke-width="0.18" >256</text>
<text x="293" y="282.8" font-size="8.1" text-anchor="middle" fill="#1c1c1c" stroke="#1c1c1c" stroke-width="0.18" >200</text>
<line x1="315" y1="261" x2="315" y2="264" stroke="#1a1a1a" stroke-width="0.9" />
<text x="315" y="273.3" font-size="8.1" text-anchor="middle" fill="#1c1c1c" stroke="#1c1c1c" stroke-width="0.18" >512</text>
<text x="315" y="282.8" font-size="8.1" text-anchor="middle" fill="#1c1c1c" stroke="#1c1c1c" stroke-width="0.18" >400</text>
<line x1="336.9" y1="261" x2="336.9" y2="264" stroke="#1a1a1a" stroke-width="0.9" />
<text x="336.9" y="273.3" font-size="8.1" text-anchor="middle" fill="#1c1c1c" stroke="#1c1c1c" stroke-width="0.18" >1024</text>
<text x="336.9" y="282.8" font-size="8.1" text-anchor="middle" fill="#1c1c1c" stroke="#1c1c1c" stroke-width="0.18" >800</text>
<text transform="translate(190.6,216.25) rotate(-90)" x="0" y="0" font-size="8.6" textLength="55.9" lengthAdjust="spacingAndGlyphs" stroke="#1c1c1c" stroke-width="0.05" text-anchor="middle" fill="#1c1c1c">Relative viability</text>
<text x="272.9" y="169.5" font-size="9.3" text-anchor="middle" fill="#1c1c1c" textLength="33.25" lengthAdjust="spacingAndGlyphs" stroke="#1c1c1c" stroke-width="0.08" >MOLT-4</text>
<text x="222.1" y="255" font-size="8.8" text-anchor="start" fill="#1c1c1c" textLength="6.9" lengthAdjust="spacingAndGlyphs" stroke="#1c1c1c" stroke-width="0.22" >CI</text>
<text x="229.7" y="257" font-size="6" text-anchor="start" fill="#1c1c1c" textLength="13.8" lengthAdjust="spacingAndGlyphs" stroke="#1c1c1c" stroke-width="0.12" >ED50</text>
<text x="247.8" y="254.8" font-size="7.4" text-anchor="middle" fill="#1c1c1c" stroke="#1c1c1c" stroke-width="0.05" >=</text>
<text x="253.1" y="255" font-size="8.7" text-anchor="start" fill="#1c1c1c" textLength="19.6" lengthAdjust="spacingAndGlyphs" stroke="#1c1c1c" stroke-width="0.22" >0.765</text>
<text x="328.3" y="252" font-size="7.1" text-anchor="start" fill="#1c1c1c" stroke="#1c1c1c" stroke-width="0.18" >n.s.</text>
<line x1="248.5" y1="201.01" x2="248.5" y2="191.83" stroke="#151515" stroke-width="1.0" />
<line x1="246.6" y1="191.83" x2="250.4" y2="191.83" stroke="#151515" stroke-width="1.1" />
<line x1="270.8" y1="202.23" x2="270.8" y2="194.89" stroke="#151515" stroke-width="1.0" />
<line x1="268.9" y1="194.89" x2="272.7" y2="194.89" stroke="#151515" stroke-width="1.1" />
<line x1="293" y1="212.03" x2="293" y2="204.07" stroke="#151515" stroke-width="1.0" />
<line x1="291.1" y1="204.07" x2="294.9" y2="204.07" stroke="#151515" stroke-width="1.1" />
<line x1="315" y1="208.97" x2="315" y2="199.17" stroke="#151515" stroke-width="1.0" />
<line x1="313.1" y1="199.17" x2="316.9" y2="199.17" stroke="#151515" stroke-width="1.1" />
<line x1="336.9" y1="208.97" x2="336.9" y2="200.4" stroke="#151515" stroke-width="1.0" />
<line x1="335" y1="200.4" x2="338.8" y2="200.4" stroke="#151515" stroke-width="1.1" />
<line x1="248.5" y1="199.17" x2="248.5" y2="197.34" stroke="#151515" stroke-width="1.0" />
<line x1="246.6" y1="197.34" x2="250.4" y2="197.34" stroke="#151515" stroke-width="1.1" />
<line x1="270.8" y1="207.74" x2="270.8" y2="205.91" stroke="#151515" stroke-width="1.0" />
<line x1="268.9" y1="205.91" x2="272.7" y2="205.91" stroke="#151515" stroke-width="1.1" />
<line x1="293" y1="218.15" x2="293" y2="215.7" stroke="#151515" stroke-width="1.0" />
<line x1="291.1" y1="215.7" x2="294.9" y2="215.7" stroke="#151515" stroke-width="1.1" />
<line x1="315" y1="254.88" x2="315" y2="249.98" stroke="#151515" stroke-width="1.0" />
<line x1="313.1" y1="249.98" x2="316.9" y2="249.98" stroke="#151515" stroke-width="1.1" />
<line x1="248.5" y1="206.52" x2="248.5" y2="205.91" stroke="#151515" stroke-width="1.0" />
<line x1="246.6" y1="205.91" x2="250.4" y2="205.91" stroke="#151515" stroke-width="1.1" />
<line x1="270.8" y1="208.36" x2="270.8" y2="207.13" stroke="#151515" stroke-width="1.0" />
<line x1="268.9" y1="207.13" x2="272.7" y2="207.13" stroke="#151515" stroke-width="1.1" />
<line x1="293" y1="225.5" x2="293" y2="223.66" stroke="#151515" stroke-width="1.0" />
<line x1="291.1" y1="223.66" x2="294.9" y2="223.66" stroke="#151515" stroke-width="1.1" />
<line x1="315" y1="255.67" x2="315" y2="254.88" stroke="#151515" stroke-width="1.0" />
<line x1="313.1" y1="254.88" x2="316.9" y2="254.88" stroke="#151515" stroke-width="1.1" />
<polyline points="226.3,199.79 248.5,201.01 270.8,202.23 293,212.03 315,208.97 336.9,208.97" fill="none" stroke="#c6112f" stroke-width="1.5" stroke-linejoin="round"/>
<polyline points="226.3,199.79 248.5,199.17 270.8,207.74 293,218.15 315,254.88 336.9,259.47" fill="none" stroke="#12528a" stroke-width="1.5" stroke-linejoin="round"/>
<polyline points="226.3,199.79 248.5,206.52 270.8,208.36 293,225.5 315,255.67 336.9,259.47" fill="none" stroke="#3ab54a" stroke-width="1.5" stroke-linejoin="round"/>
<circle cx="226.3" cy="199.79" r="2.1" fill="#c6112f"/>
<circle cx="248.5" cy="201.01" r="2.1" fill="#c6112f"/>
<circle cx="270.8" cy="202.23" r="2.1" fill="#c6112f"/>
<circle cx="293" cy="212.03" r="2.1" fill="#c6112f"/>
<circle cx="315" cy="208.97" r="2.1" fill="#c6112f"/>
<circle cx="336.9" cy="208.97" r="2.1" fill="#c6112f"/>
<rect x="224.55" y="198.04" width="3.5" height="3.5" fill="#12528a"/>
<rect x="246.75" y="197.42" width="3.5" height="3.5" fill="#12528a"/>
<rect x="269.05" y="205.99" width="3.5" height="3.5" fill="#12528a"/>
<rect x="291.25" y="216.4" width="3.5" height="3.5" fill="#12528a"/>
<rect x="313.25" y="253.13" width="3.5" height="3.5" fill="#12528a"/>
<rect x="335.15" y="257.72" width="3.5" height="3.5" fill="#12528a"/>
<path d="M226.3,197.59 L228.5,201.39 L224.1,201.39 Z" fill="#3ab54a"/>
<path d="M248.5,204.32 L250.7,208.12 L246.3,208.12 Z" fill="#3ab54a"/>
<path d="M270.8,206.16 L273,209.96 L268.6,209.96 Z" fill="#3ab54a"/>
<path d="M293,223.3 L295.2,227.1 L290.8,227.1 Z" fill="#3ab54a"/>
<path d="M315,253.47 L317.2,257.27 L312.8,257.27 Z" fill="#3ab54a"/>
<path d="M336.9,257.27 L339.1,261.07 L334.7,261.07 Z" fill="#3ab54a"/>
<line x1="386.8" y1="171.5" x2="386.8" y2="261.8" stroke="#151515" stroke-width="1.3" />
<line x1="386.2" y1="261.2" x2="519.5" y2="261.2" stroke="#151515" stroke-width="1.3" />
<line x1="383.8" y1="261.2" x2="386.8" y2="261.2" stroke="#1a1a1a" stroke-width="0.9" />
<text x="380.4" y="264.1" font-size="8.5" text-anchor="end" fill="#1c1c1c" textLength="10.8" lengthAdjust="spacingAndGlyphs" stroke="#1c1c1c" stroke-width="0.08" >0.0</text>
<line x1="383.8" y1="248.97" x2="386.8" y2="248.97" stroke="#1a1a1a" stroke-width="0.9" />
<text x="380.4" y="251.87" font-size="8.5" text-anchor="end" fill="#1c1c1c" textLength="10.8" lengthAdjust="spacingAndGlyphs" stroke="#1c1c1c" stroke-width="0.08" >0.2</text>
<line x1="383.8" y1="236.74" x2="386.8" y2="236.74" stroke="#1a1a1a" stroke-width="0.9" />
<text x="380.4" y="239.64" font-size="8.5" text-anchor="end" fill="#1c1c1c" textLength="10.8" lengthAdjust="spacingAndGlyphs" stroke="#1c1c1c" stroke-width="0.08" >0.4</text>
<line x1="383.8" y1="224.51" x2="386.8" y2="224.51" stroke="#1a1a1a" stroke-width="0.9" />
<text x="380.4" y="227.41" font-size="8.5" text-anchor="end" fill="#1c1c1c" textLength="10.8" lengthAdjust="spacingAndGlyphs" stroke="#1c1c1c" stroke-width="0.08" >0.6</text>
<line x1="383.8" y1="212.29" x2="386.8" y2="212.29" stroke="#1a1a1a" stroke-width="0.9" />
<text x="380.4" y="215.19" font-size="8.5" text-anchor="end" fill="#1c1c1c" textLength="10.8" lengthAdjust="spacingAndGlyphs" stroke="#1c1c1c" stroke-width="0.08" >0.8</text>
<line x1="383.8" y1="200.06" x2="386.8" y2="200.06" stroke="#1a1a1a" stroke-width="0.9" />
<text x="380.4" y="202.96" font-size="8.5" text-anchor="end" fill="#1c1c1c" textLength="10.8" lengthAdjust="spacingAndGlyphs" stroke="#1c1c1c" stroke-width="0.08" >1.0</text>
<line x1="383.8" y1="187.83" x2="386.8" y2="187.83" stroke="#1a1a1a" stroke-width="0.9" />
<text x="380.4" y="190.73" font-size="8.5" text-anchor="end" fill="#1c1c1c" textLength="10.8" lengthAdjust="spacingAndGlyphs" stroke="#1c1c1c" stroke-width="0.08" >1.2</text>
<line x1="383.8" y1="175.6" x2="386.8" y2="175.6" stroke="#1a1a1a" stroke-width="0.9" />
<text x="380.4" y="178.5" font-size="8.5" text-anchor="end" fill="#1c1c1c" textLength="10.8" lengthAdjust="spacingAndGlyphs" stroke="#1c1c1c" stroke-width="0.08" >1.4</text>
<line x1="398" y1="261.2" x2="398" y2="264.2" stroke="#1a1a1a" stroke-width="0.9" />
<text x="398" y="273.5" font-size="8.1" text-anchor="middle" fill="#1c1c1c" stroke="#1c1c1c" stroke-width="0.18" >0</text>
<text x="398" y="283" font-size="8.1" text-anchor="middle" fill="#1c1c1c" stroke="#1c1c1c" stroke-width="0.18" >0</text>
<line x1="420" y1="261.2" x2="420" y2="264.2" stroke="#1a1a1a" stroke-width="0.9" />
<text x="420" y="273.5" font-size="8.1" text-anchor="middle" fill="#1c1c1c" stroke="#1c1c1c" stroke-width="0.18" >64</text>
<text x="420" y="283" font-size="8.1" text-anchor="middle" fill="#1c1c1c" stroke="#1c1c1c" stroke-width="0.18" >50</text>
<line x1="442" y1="261.2" x2="442" y2="264.2" stroke="#1a1a1a" stroke-width="0.9" />
<text x="442" y="273.5" font-size="8.1" text-anchor="middle" fill="#1c1c1c" stroke="#1c1c1c" stroke-width="0.18" >128</text>
<text x="442" y="283" font-size="8.1" text-anchor="middle" fill="#1c1c1c" stroke="#1c1c1c" stroke-width="0.18" >100</text>
<line x1="464.2" y1="261.2" x2="464.2" y2="264.2" stroke="#1a1a1a" stroke-width="0.9" />
<text x="464.2" y="273.5" font-size="8.1" text-anchor="middle" fill="#1c1c1c" stroke="#1c1c1c" stroke-width="0.18" >256</text>
<text x="464.2" y="283" font-size="8.1" text-anchor="middle" fill="#1c1c1c" stroke="#1c1c1c" stroke-width="0.18" >200</text>
<line x1="485.9" y1="261.2" x2="485.9" y2="264.2" stroke="#1a1a1a" stroke-width="0.9" />
<text x="485.9" y="273.5" font-size="8.1" text-anchor="middle" fill="#1c1c1c" stroke="#1c1c1c" stroke-width="0.18" >512</text>
<text x="485.9" y="283" font-size="8.1" text-anchor="middle" fill="#1c1c1c" stroke="#1c1c1c" stroke-width="0.18" >400</text>
<line x1="507.7" y1="261.2" x2="507.7" y2="264.2" stroke="#1a1a1a" stroke-width="0.9" />
<text x="507.7" y="273.5" font-size="8.1" text-anchor="middle" fill="#1c1c1c" stroke="#1c1c1c" stroke-width="0.18" >1024</text>
<text x="507.7" y="283" font-size="8.1" text-anchor="middle" fill="#1c1c1c" stroke="#1c1c1c" stroke-width="0.18" >800</text>
<text transform="translate(362.1,216.35) rotate(-90)" x="0" y="0" font-size="8.6" textLength="55.9" lengthAdjust="spacingAndGlyphs" stroke="#1c1c1c" stroke-width="0.05" text-anchor="middle" fill="#1c1c1c">Relative viability</text>
<text x="444.75" y="169.5" font-size="9.3" text-anchor="middle" fill="#1c1c1c" textLength="30.5" lengthAdjust="spacingAndGlyphs" stroke="#1c1c1c" stroke-width="0.08" >PF-382</text>
<text x="393.8" y="255" font-size="8.8" text-anchor="start" fill="#1c1c1c" textLength="6.9" lengthAdjust="spacingAndGlyphs" stroke="#1c1c1c" stroke-width="0.22" >CI</text>
<text x="401.4" y="257" font-size="6" text-anchor="start" fill="#1c1c1c" textLength="13.8" lengthAdjust="spacingAndGlyphs" stroke="#1c1c1c" stroke-width="0.12" >ED50</text>
<text x="419.5" y="254.8" font-size="7.4" text-anchor="middle" fill="#1c1c1c" stroke="#1c1c1c" stroke-width="0.05" >=</text>
<text x="424.8" y="255" font-size="8.7" text-anchor="start" fill="#1c1c1c" textLength="19.6" lengthAdjust="spacingAndGlyphs" stroke="#1c1c1c" stroke-width="0.22" >0.895</text>
<text x="502" y="241.5" font-size="7.1" text-anchor="start" fill="#1c1c1c" stroke="#1c1c1c" stroke-width="0.18" >n.s.</text>
<line x1="420" y1="200.36" x2="420" y2="192.11" stroke="#151515" stroke-width="1.0" />
<line x1="418.1" y1="192.11" x2="421.9" y2="192.11" stroke="#151515" stroke-width="1.1" />
<line x1="442" y1="202.5" x2="442" y2="198.22" stroke="#151515" stroke-width="1.0" />
<line x1="440.1" y1="198.22" x2="443.9" y2="198.22" stroke="#151515" stroke-width="1.1" />
<line x1="464.2" y1="202.2" x2="464.2" y2="195.78" stroke="#151515" stroke-width="1.0" />
<line x1="462.3" y1="195.78" x2="466.1" y2="195.78" stroke="#151515" stroke-width="1.1" />
<line x1="485.9" y1="209.23" x2="485.9" y2="205.56" stroke="#151515" stroke-width="1.0" />
<line x1="484" y1="205.56" x2="487.8" y2="205.56" stroke="#151515" stroke-width="1.1" />
<line x1="507.7" y1="213.51" x2="507.7" y2="210.45" stroke="#151515" stroke-width="1.0" />
<line x1="505.8" y1="210.45" x2="509.6" y2="210.45" stroke="#151515" stroke-width="1.1" />
<line x1="420" y1="200.36" x2="420" y2="197" stroke="#151515" stroke-width="1.0" />
<line x1="418.1" y1="197" x2="421.9" y2="197" stroke="#151515" stroke-width="1.1" />
<line x1="442" y1="205.87" x2="442" y2="204.34" stroke="#151515" stroke-width="1.0" />
<line x1="440.1" y1="204.34" x2="443.9" y2="204.34" stroke="#151515" stroke-width="1.1" />
<line x1="464.2" y1="214.12" x2="464.2" y2="213.51" stroke="#151515" stroke-width="1.0" />
<line x1="462.3" y1="213.51" x2="466.1" y2="213.51" stroke="#151515" stroke-width="1.1" />
<line x1="420" y1="208.31" x2="420" y2="207.39" stroke="#151515" stroke-width="1.0" />
<line x1="418.1" y1="207.39" x2="421.9" y2="207.39" stroke="#151515" stroke-width="1.1" />
<line x1="442" y1="209.23" x2="442" y2="208.01" stroke="#151515" stroke-width="1.0" />
<line x1="440.1" y1="208.01" x2="443.9" y2="208.01" stroke="#151515" stroke-width="1.1" />
<line x1="464.2" y1="230.63" x2="464.2" y2="228.79" stroke="#151515" stroke-width="1.0" />
<line x1="462.3" y1="228.79" x2="466.1" y2="228.79" stroke="#151515" stroke-width="1.1" />
<line x1="485.9" y1="254.47" x2="485.9" y2="253.86" stroke="#151515" stroke-width="1.0" />
<line x1="484" y1="253.86" x2="487.8" y2="253.86" stroke="#151515" stroke-width="1.1" />
<line x1="507.7" y1="251.72" x2="507.7" y2="245.91" stroke="#151515" stroke-width="1.0" />
<line x1="505.8" y1="245.91" x2="509.6" y2="245.91" stroke="#151515" stroke-width="1.1" />
<polyline points="398,200.06 420,200.36 442,202.5 464.2,202.2 485.9,209.23 507.7,213.51" fill="none" stroke="#c6112f" stroke-width="1.5" stroke-linejoin="round"/>
<polyline points="398,200.06 420,200.36 442,205.87 464.2,214.12 485.9,254.17 507.7,251.72" fill="none" stroke="#12528a" stroke-width="1.5" stroke-linejoin="round"/>
<polyline points="398,200.06 420,208.31 442,209.23 464.2,230.63 485.9,254.47 507.7,251.72" fill="none" stroke="#3ab54a" stroke-width="1.5" stroke-linejoin="round"/>
<circle cx="398" cy="200.06" r="2.1" fill="#c6112f"/>
<circle cx="420" cy="200.36" r="2.1" fill="#c6112f"/>
<circle cx="442" cy="202.5" r="2.1" fill="#c6112f"/>
<circle cx="464.2" cy="202.2" r="2.1" fill="#c6112f"/>
<circle cx="485.9" cy="209.23" r="2.1" fill="#c6112f"/>
<circle cx="507.7" cy="213.51" r="2.1" fill="#c6112f"/>
<rect x="396.25" y="198.31" width="3.5" height="3.5" fill="#12528a"/>
<rect x="418.25" y="198.61" width="3.5" height="3.5" fill="#12528a"/>
<rect x="440.25" y="204.12" width="3.5" height="3.5" fill="#12528a"/>
<rect x="462.45" y="212.37" width="3.5" height="3.5" fill="#12528a"/>
<rect x="484.15" y="252.42" width="3.5" height="3.5" fill="#12528a"/>
<rect x="505.95" y="249.97" width="3.5" height="3.5" fill="#12528a"/>
<path d="M398,197.86 L400.2,201.66 L395.8,201.66 Z" fill="#3ab54a"/>
<path d="M420,206.11 L422.2,209.91 L417.8,209.91 Z" fill="#3ab54a"/>
<path d="M442,207.03 L444.2,210.83 L439.8,210.83 Z" fill="#3ab54a"/>
<path d="M464.2,228.43 L466.4,232.23 L462,232.23 Z" fill="#3ab54a"/>
<path d="M485.9,252.27 L488.1,256.07 L483.7,256.07 Z" fill="#3ab54a"/>
<path d="M507.7,249.52 L509.9,253.32 L505.5,253.32 Z" fill="#3ab54a"/>
<line x1="45.5" y1="307.9" x2="45.5" y2="399" stroke="#151515" stroke-width="1.3" />
<line x1="44.9" y1="398.4" x2="178.8" y2="398.4" stroke="#151515" stroke-width="1.3" />
<line x1="42.5" y1="398.4" x2="45.5" y2="398.4" stroke="#1a1a1a" stroke-width="0.9" />
<text x="39.1" y="401.3" font-size="8.5" text-anchor="end" fill="#1c1c1c" textLength="10.8" lengthAdjust="spacingAndGlyphs" stroke="#1c1c1c" stroke-width="0.08" >0.0</text>
<line x1="42.5" y1="386.04" x2="45.5" y2="386.04" stroke="#1a1a1a" stroke-width="0.9" />
<text x="39.1" y="388.94" font-size="8.5" text-anchor="end" fill="#1c1c1c" textLength="10.8" lengthAdjust="spacingAndGlyphs" stroke="#1c1c1c" stroke-width="0.08" >0.2</text>
<line x1="42.5" y1="373.69" x2="45.5" y2="373.69" stroke="#1a1a1a" stroke-width="0.9" />
<text x="39.1" y="376.59" font-size="8.5" text-anchor="end" fill="#1c1c1c" textLength="10.8" lengthAdjust="spacingAndGlyphs" stroke="#1c1c1c" stroke-width="0.08" >0.4</text>
<line x1="42.5" y1="361.33" x2="45.5" y2="361.33" stroke="#1a1a1a" stroke-width="0.9" />
<text x="39.1" y="364.23" font-size="8.5" text-anchor="end" fill="#1c1c1c" textLength="10.8" lengthAdjust="spacingAndGlyphs" stroke="#1c1c1c" stroke-width="0.08" >0.6</text>
<line x1="42.5" y1="348.97" x2="45.5" y2="348.97" stroke="#1a1a1a" stroke-width="0.9" />
<text x="39.1" y="351.87" font-size="8.5" text-anchor="end" fill="#1c1c1c" textLength="10.8" lengthAdjust="spacingAndGlyphs" stroke="#1c1c1c" stroke-width="0.08" >0.8</text>
<line x1="42.5" y1="336.61" x2="45.5" y2="336.61" stroke="#1a1a1a" stroke-width="0.9" />
<text x="39.1" y="339.51" font-size="8.5" text-anchor="end" fill="#1c1c1c" textLength="10.8" lengthAdjust="spacingAndGlyphs" stroke="#1c1c1c" stroke-width="0.08" >1.0</text>
<line x1="42.5" y1="324.26" x2="45.5" y2="324.26" stroke="#1a1a1a" stroke-width="0.9" />
<text x="39.1" y="327.16" font-size="8.5" text-anchor="end" fill="#1c1c1c" textLength="10.8" lengthAdjust="spacingAndGlyphs" stroke="#1c1c1c" stroke-width="0.08" >1.2</text>
<line x1="42.5" y1="311.9" x2="45.5" y2="311.9" stroke="#1a1a1a" stroke-width="0.9" />
<text x="39.1" y="314.8" font-size="8.5" text-anchor="end" fill="#1c1c1c" textLength="10.8" lengthAdjust="spacingAndGlyphs" stroke="#1c1c1c" stroke-width="0.08" >1.4</text>
<line x1="56.5" y1="398.4" x2="56.5" y2="401.4" stroke="#1a1a1a" stroke-width="0.9" />
<text x="56.5" y="410.7" font-size="8.1" text-anchor="middle" fill="#1c1c1c" stroke="#1c1c1c" stroke-width="0.18" >0</text>
<text x="56.5" y="420.2" font-size="8.1" text-anchor="middle" fill="#1c1c1c" stroke="#1c1c1c" stroke-width="0.18" >0</text>
<line x1="79" y1="398.4" x2="79" y2="401.4" stroke="#1a1a1a" stroke-width="0.9" />
<text x="79" y="410.7" font-size="8.1" text-anchor="middle" fill="#1c1c1c" stroke="#1c1c1c" stroke-width="0.18" >64</text>
<text x="79" y="420.2" font-size="8.1" text-anchor="middle" fill="#1c1c1c" stroke="#1c1c1c" stroke-width="0.18" >50</text>
<line x1="101.5" y1="398.4" x2="101.5" y2="401.4" stroke="#1a1a1a" stroke-width="0.9" />
<text x="101.5" y="410.7" font-size="8.1" text-anchor="middle" fill="#1c1c1c" stroke="#1c1c1c" stroke-width="0.18" >128</text>
<text x="101.5" y="420.2" font-size="8.1" text-anchor="middle" fill="#1c1c1c" stroke="#1c1c1c" stroke-width="0.18" >100</text>
<line x1="123.5" y1="398.4" x2="123.5" y2="401.4" stroke="#1a1a1a" stroke-width="0.9" />
<text x="123.5" y="410.7" font-size="8.1" text-anchor="middle" fill="#1c1c1c" stroke="#1c1c1c" stroke-width="0.18" >256</text>
<text x="123.5" y="420.2" font-size="8.1" text-anchor="middle" fill="#1c1c1c" stroke="#1c1c1c" stroke-width="0.18" >200</text>
<line x1="146" y1="398.4" x2="146" y2="401.4" stroke="#1a1a1a" stroke-width="0.9" />
<text x="146" y="410.7" font-size="8.1" text-anchor="middle" fill="#1c1c1c" stroke="#1c1c1c" stroke-width="0.18" >512</text>
<text x="146" y="420.2" font-size="8.1" text-anchor="middle" fill="#1c1c1c" stroke="#1c1c1c" stroke-width="0.18" >400</text>
<line x1="168.3" y1="398.4" x2="168.3" y2="401.4" stroke="#1a1a1a" stroke-width="0.9" />
<text x="168.3" y="410.7" font-size="8.1" text-anchor="middle" fill="#1c1c1c" stroke="#1c1c1c" stroke-width="0.18" >1024</text>
<text x="168.3" y="420.2" font-size="8.1" text-anchor="middle" fill="#1c1c1c" stroke="#1c1c1c" stroke-width="0.18" >800</text>
<text x="50.6" y="411" font-size="7.4" text-anchor="end" fill="#1c1c1c" stroke="#1c1c1c" stroke-width="0.18" >Tem (nM)</text>
<text x="50.6" y="420.5" font-size="7.6" text-anchor="end" fill="#1c1c1c" stroke="#1c1c1c" stroke-width="0.18" >AZD5991 (nM)</text>
<text transform="translate(20.8,353.15) rotate(-90)" x="0" y="0" font-size="8.6" textLength="55.9" lengthAdjust="spacingAndGlyphs" stroke="#1c1c1c" stroke-width="0.05" text-anchor="middle" fill="#1c1c1c">Relative viability</text>
<text x="52.6" y="392.5" font-size="8.8" text-anchor="start" fill="#1c1c1c" textLength="6.9" lengthAdjust="spacingAndGlyphs" stroke="#1c1c1c" stroke-width="0.22" >CI</text>
<text x="60.2" y="394.5" font-size="6" text-anchor="start" fill="#1c1c1c" textLength="13.8" lengthAdjust="spacingAndGlyphs" stroke="#1c1c1c" stroke-width="0.12" >ED50</text>
<text x="78.3" y="392.3" font-size="7.4" text-anchor="middle" fill="#1c1c1c" stroke="#1c1c1c" stroke-width="0.05" >=</text>
<text x="83.6" y="392.5" font-size="8.7" text-anchor="start" fill="#1c1c1c" textLength="19.6" lengthAdjust="spacingAndGlyphs" stroke="#1c1c1c" stroke-width="0.22" >0.665</text>
<text x="160" y="388.8" font-size="7.1" text-anchor="start" fill="#1c1c1c" stroke="#1c1c1c" stroke-width="0.18" >n.s.</text>
<line x1="79" y1="339.58" x2="79" y2="338.04" stroke="#151515" stroke-width="1.0" />
<line x1="77.1" y1="338.04" x2="80.9" y2="338.04" stroke="#151515" stroke-width="1.1" />
<line x1="101.5" y1="342.05" x2="101.5" y2="339.89" stroke="#151515" stroke-width="1.0" />
<line x1="99.6" y1="339.89" x2="103.4" y2="339.89" stroke="#151515" stroke-width="1.1" />
<line x1="123.5" y1="347.3" x2="123.5" y2="344.21" stroke="#151515" stroke-width="1.0" />
<line x1="121.6" y1="344.21" x2="125.4" y2="344.21" stroke="#151515" stroke-width="1.1" />
<line x1="146" y1="346.07" x2="146" y2="341.74" stroke="#151515" stroke-width="1.0" />
<line x1="144.1" y1="341.74" x2="147.9" y2="341.74" stroke="#151515" stroke-width="1.1" />
<line x1="168.3" y1="350.39" x2="168.3" y2="345.45" stroke="#151515" stroke-width="1.0" />
<line x1="166.4" y1="345.45" x2="170.2" y2="345.45" stroke="#151515" stroke-width="1.1" />
<line x1="79" y1="343.6" x2="79" y2="342.36" stroke="#151515" stroke-width="1.0" />
<line x1="77.1" y1="342.36" x2="80.9" y2="342.36" stroke="#151515" stroke-width="1.1" />
<line x1="101.5" y1="346.69" x2="101.5" y2="344.21" stroke="#151515" stroke-width="1.0" />
<line x1="99.6" y1="344.21" x2="103.4" y2="344.21" stroke="#151515" stroke-width="1.1" />
<line x1="123.5" y1="352.55" x2="123.5" y2="351.01" stroke="#151515" stroke-width="1.0" />
<line x1="121.6" y1="351.01" x2="125.4" y2="351.01" stroke="#151515" stroke-width="1.1" />
<line x1="146" y1="391.17" x2="146" y2="388.7" stroke="#151515" stroke-width="1.0" />
<line x1="144.1" y1="388.7" x2="147.9" y2="388.7" stroke="#151515" stroke-width="1.1" />
<line x1="79" y1="353.79" x2="79" y2="352.25" stroke="#151515" stroke-width="1.0" />
<line x1="77.1" y1="352.25" x2="80.9" y2="352.25" stroke="#151515" stroke-width="1.1" />
<line x1="101.5" y1="351.63" x2="101.5" y2="350.39" stroke="#151515" stroke-width="1.0" />
<line x1="99.6" y1="350.39" x2="103.4" y2="350.39" stroke="#151515" stroke-width="1.1" />
<line x1="123.5" y1="363.06" x2="123.5" y2="358.73" stroke="#151515" stroke-width="1.0" />
<line x1="121.6" y1="358.73" x2="125.4" y2="358.73" stroke="#151515" stroke-width="1.1" />
<line x1="146" y1="395.19" x2="146" y2="394.26" stroke="#151515" stroke-width="1.0" />
<line x1="144.1" y1="394.26" x2="147.9" y2="394.26" stroke="#151515" stroke-width="1.1" />
<line x1="168.3" y1="397.78" x2="168.3" y2="397.35" stroke="#151515" stroke-width="1.0" />
<line x1="166.4" y1="397.35" x2="170.2" y2="397.35" stroke="#151515" stroke-width="1.1" />
<polyline points="56.5,337.42 79,339.58 101.5,342.05 123.5,347.3 146,346.07 168.3,350.39" fill="none" stroke="#c6112f" stroke-width="1.5" stroke-linejoin="round"/>
<polyline points="56.5,337.42 79,343.6 101.5,346.69 123.5,352.55 146,391.17 168.3,397.04" fill="none" stroke="#12528a" stroke-width="1.5" stroke-linejoin="round"/>
<polyline points="56.5,337.42 79,353.79 101.5,351.63 123.5,363.06 146,395.19 168.3,397.78" fill="none" stroke="#3ab54a" stroke-width="1.5" stroke-linejoin="round"/>
<circle cx="56.5" cy="337.42" r="2.1" fill="#c6112f"/>
<circle cx="79" cy="339.58" r="2.1" fill="#c6112f"/>
<circle cx="101.5" cy="342.05" r="2.1" fill="#c6112f"/>
<circle cx="123.5" cy="347.3" r="2.1" fill="#c6112f"/>
<circle cx="146" cy="346.07" r="2.1" fill="#c6112f"/>
<circle cx="168.3" cy="350.39" r="2.1" fill="#c6112f"/>
<rect x="54.75" y="335.67" width="3.5" height="3.5" fill="#12528a"/>
<rect x="77.25" y="341.85" width="3.5" height="3.5" fill="#12528a"/>
<rect x="99.75" y="344.94" width="3.5" height="3.5" fill="#12528a"/>
<rect x="121.75" y="350.8" width="3.5" height="3.5" fill="#12528a"/>
<rect x="144.25" y="389.42" width="3.5" height="3.5" fill="#12528a"/>
<rect x="166.55" y="395.29" width="3.5" height="3.5" fill="#12528a"/>
<path d="M56.5,335.22 L58.7,339.02 L54.3,339.02 Z" fill="#3ab54a"/>
<path d="M79,351.59 L81.2,355.39 L76.8,355.39 Z" fill="#3ab54a"/>
<path d="M101.5,349.43 L103.7,353.23 L99.3,353.23 Z" fill="#3ab54a"/>
<path d="M123.5,360.86 L125.7,364.66 L121.3,364.66 Z" fill="#3ab54a"/>
<path d="M146,392.99 L148.2,396.79 L143.8,396.79 Z" fill="#3ab54a"/>
<path d="M168.3,395.58 L170.5,399.38 L166.1,399.38 Z" fill="#3ab54a"/>
<line x1="215.3" y1="310.8" x2="215.3" y2="399.2" stroke="#151515" stroke-width="1.3" />
<line x1="214.7" y1="398.6" x2="347" y2="398.6" stroke="#151515" stroke-width="1.3" />
<line x1="212.3" y1="398.6" x2="215.3" y2="398.6" stroke="#1a1a1a" stroke-width="0.9" />
<text x="208.9" y="401.5" font-size="8.5" text-anchor="end" fill="#1c1c1c" textLength="10.8" lengthAdjust="spacingAndGlyphs" stroke="#1c1c1c" stroke-width="0.08" >0.0</text>
<line x1="212.3" y1="386.64" x2="215.3" y2="386.64" stroke="#1a1a1a" stroke-width="0.9" />
<text x="208.9" y="389.54" font-size="8.5" text-anchor="end" fill="#1c1c1c" textLength="10.8" lengthAdjust="spacingAndGlyphs" stroke="#1c1c1c" stroke-width="0.08" >0.2</text>
<line x1="212.3" y1="374.69" x2="215.3" y2="374.69" stroke="#1a1a1a" stroke-width="0.9" />
<text x="208.9" y="377.59" font-size="8.5" text-anchor="end" fill="#1c1c1c" textLength="10.8" lengthAdjust="spacingAndGlyphs" stroke="#1c1c1c" stroke-width="0.08" >0.4</text>
<line x1="212.3" y1="362.73" x2="215.3" y2="362.73" stroke="#1a1a1a" stroke-width="0.9" />
<text x="208.9" y="365.63" font-size="8.5" text-anchor="end" fill="#1c1c1c" textLength="10.8" lengthAdjust="spacingAndGlyphs" stroke="#1c1c1c" stroke-width="0.08" >0.6</text>
<line x1="212.3" y1="350.77" x2="215.3" y2="350.77" stroke="#1a1a1a" stroke-width="0.9" />
<text x="208.9" y="353.67" font-size="8.5" text-anchor="end" fill="#1c1c1c" textLength="10.8" lengthAdjust="spacingAndGlyphs" stroke="#1c1c1c" stroke-width="0.08" >0.8</text>
<line x1="212.3" y1="338.81" x2="215.3" y2="338.81" stroke="#1a1a1a" stroke-width="0.9" />
<text x="208.9" y="341.71" font-size="8.5" text-anchor="end" fill="#1c1c1c" textLength="10.8" lengthAdjust="spacingAndGlyphs" stroke="#1c1c1c" stroke-width="0.08" >1.0</text>
<line x1="212.3" y1="326.86" x2="215.3" y2="326.86" stroke="#1a1a1a" stroke-width="0.9" />
<text x="208.9" y="329.76" font-size="8.5" text-anchor="end" fill="#1c1c1c" textLength="10.8" lengthAdjust="spacingAndGlyphs" stroke="#1c1c1c" stroke-width="0.08" >1.2</text>
<line x1="212.3" y1="314.9" x2="215.3" y2="314.9" stroke="#1a1a1a" stroke-width="0.9" />
<text x="208.9" y="317.8" font-size="8.5" text-anchor="end" fill="#1c1c1c" textLength="10.8" lengthAdjust="spacingAndGlyphs" stroke="#1c1c1c" stroke-width="0.08" >1.4</text>
<line x1="226.3" y1="398.6" x2="226.3" y2="401.6" stroke="#1a1a1a" stroke-width="0.9" />
<text x="226.3" y="410.9" font-size="8.1" text-anchor="middle" fill="#1c1c1c" stroke="#1c1c1c" stroke-width="0.18" >0</text>
<text x="226.3" y="420.4" font-size="8.1" text-anchor="middle" fill="#1c1c1c" stroke="#1c1c1c" stroke-width="0.18" >0</text>
<line x1="248.2" y1="398.6" x2="248.2" y2="401.6" stroke="#1a1a1a" stroke-width="0.9" />
<text x="248.2" y="410.9" font-size="8.1" text-anchor="middle" fill="#1c1c1c" stroke="#1c1c1c" stroke-width="0.18" >64</text>
<text x="248.2" y="420.4" font-size="8.1" text-anchor="middle" fill="#1c1c1c" stroke="#1c1c1c" stroke-width="0.18" >50</text>
<line x1="270" y1="398.6" x2="270" y2="401.6" stroke="#1a1a1a" stroke-width="0.9" />
<text x="270" y="410.9" font-size="8.1" text-anchor="middle" fill="#1c1c1c" stroke="#1c1c1c" stroke-width="0.18" >128</text>
<text x="270" y="420.4" font-size="8.1" text-anchor="middle" fill="#1c1c1c" stroke="#1c1c1c" stroke-width="0.18" >100</text>
<line x1="292" y1="398.6" x2="292" y2="401.6" stroke="#1a1a1a" stroke-width="0.9" />
<text x="292" y="410.9" font-size="8.1" text-anchor="middle" fill="#1c1c1c" stroke="#1c1c1c" stroke-width="0.18" >256</text>
<text x="292" y="420.4" font-size="8.1" text-anchor="middle" fill="#1c1c1c" stroke="#1c1c1c" stroke-width="0.18" >200</text>
<line x1="313.3" y1="398.6" x2="313.3" y2="401.6" stroke="#1a1a1a" stroke-width="0.9" />
<text x="313.3" y="410.9" font-size="8.1" text-anchor="middle" fill="#1c1c1c" stroke="#1c1c1c" stroke-width="0.18" >512</text>
<text x="313.3" y="420.4" font-size="8.1" text-anchor="middle" fill="#1c1c1c" stroke="#1c1c1c" stroke-width="0.18" >400</text>
<line x1="335" y1="398.6" x2="335" y2="401.6" stroke="#1a1a1a" stroke-width="0.9" />
<text x="335" y="410.9" font-size="8.1" text-anchor="middle" fill="#1c1c1c" stroke="#1c1c1c" stroke-width="0.18" >1024</text>
<text x="335" y="420.4" font-size="8.1" text-anchor="middle" fill="#1c1c1c" stroke="#1c1c1c" stroke-width="0.18" >800</text>
<text transform="translate(190.6,354.7) rotate(-90)" x="0" y="0" font-size="8.6" textLength="55.9" lengthAdjust="spacingAndGlyphs" stroke="#1c1c1c" stroke-width="0.05" text-anchor="middle" fill="#1c1c1c">Relative viability</text>
<text x="226.3" y="392.5" font-size="8.8" text-anchor="start" fill="#1c1c1c" textLength="6.9" lengthAdjust="spacingAndGlyphs" stroke="#1c1c1c" stroke-width="0.22" >CI</text>
<text x="233.9" y="394.5" font-size="6" text-anchor="start" fill="#1c1c1c" textLength="13.8" lengthAdjust="spacingAndGlyphs" stroke="#1c1c1c" stroke-width="0.12" >ED50</text>
<text x="252" y="392.3" font-size="7.4" text-anchor="middle" fill="#1c1c1c" stroke="#1c1c1c" stroke-width="0.05" >=</text>
<text x="257.3" y="392.5" font-size="8.7" text-anchor="start" fill="#1c1c1c" textLength="10.98" lengthAdjust="spacingAndGlyphs" stroke="#1c1c1c" stroke-width="0.22" >0.5</text>
<text x="328.8" y="390" font-size="7.1" text-anchor="start" fill="#1c1c1c" stroke="#1c1c1c" stroke-width="0.18" >n.s.</text>
<line x1="248.2" y1="338.81" x2="248.2" y2="334.63" stroke="#151515" stroke-width="1.0" />
<line x1="246.3" y1="334.63" x2="250.1" y2="334.63" stroke="#151515" stroke-width="1.1" />
<line x1="270" y1="346.89" x2="270" y2="342.7" stroke="#151515" stroke-width="1.0" />
<line x1="268.1" y1="342.7" x2="271.9" y2="342.7" stroke="#151515" stroke-width="1.1" />
<line x1="292" y1="351.97" x2="292" y2="349.87" stroke="#151515" stroke-width="1.0" />
<line x1="290.1" y1="349.87" x2="293.9" y2="349.87" stroke="#151515" stroke-width="1.1" />
<line x1="313.3" y1="348.08" x2="313.3" y2="345.09" stroke="#151515" stroke-width="1.0" />
<line x1="311.4" y1="345.09" x2="315.2" y2="345.09" stroke="#151515" stroke-width="1.1" />
<line x1="335" y1="350.17" x2="335" y2="346.89" stroke="#151515" stroke-width="1.0" />
<line x1="333.1" y1="346.89" x2="336.9" y2="346.89" stroke="#151515" stroke-width="1.1" />
<line x1="248.2" y1="347.6" x2="248.2" y2="343.9" stroke="#151515" stroke-width="1.0" />
<line x1="246.3" y1="343.9" x2="250.1" y2="343.9" stroke="#151515" stroke-width="1.1" />
<line x1="270" y1="346.89" x2="270" y2="342.4" stroke="#151515" stroke-width="1.0" />
<line x1="268.1" y1="342.4" x2="271.9" y2="342.4" stroke="#151515" stroke-width="1.1" />
<line x1="292" y1="356.75" x2="292" y2="355.55" stroke="#151515" stroke-width="1.0" />
<line x1="290.1" y1="355.55" x2="293.9" y2="355.55" stroke="#151515" stroke-width="1.1" />
<line x1="313.3" y1="388.74" x2="313.3" y2="385.45" stroke="#151515" stroke-width="1.0" />
<line x1="311.4" y1="385.45" x2="315.2" y2="385.45" stroke="#151515" stroke-width="1.1" />
<line x1="248.2" y1="353.16" x2="248.2" y2="351.97" stroke="#151515" stroke-width="1.0" />
<line x1="246.3" y1="351.97" x2="250.1" y2="351.97" stroke="#151515" stroke-width="1.1" />
<line x1="270" y1="352.39" x2="270" y2="351.37" stroke="#151515" stroke-width="1.0" />
<line x1="268.1" y1="351.37" x2="271.9" y2="351.37" stroke="#151515" stroke-width="1.1" />
<line x1="292" y1="371.82" x2="292" y2="366.91" stroke="#151515" stroke-width="1.0" />
<line x1="290.1" y1="366.91" x2="293.9" y2="366.91" stroke="#151515" stroke-width="1.1" />
<line x1="313.3" y1="396.21" x2="313.3" y2="395.61" stroke="#151515" stroke-width="1.0" />
<line x1="311.4" y1="395.61" x2="315.2" y2="395.61" stroke="#151515" stroke-width="1.1" />
<line x1="335" y1="396.21" x2="335" y2="395.61" stroke="#151515" stroke-width="1.0" />
<line x1="333.1" y1="395.61" x2="336.9" y2="395.61" stroke="#151515" stroke-width="1.1" />
<polyline points="226.3,338.81 248.2,338.81 270,346.89 292,351.97 313.3,348.08 335,350.17" fill="none" stroke="#c6112f" stroke-width="1.5" stroke-linejoin="round"/>
<polyline points="226.3,338.81 248.2,347.6 270,346.89 292,356.75 313.3,388.74 335,396.21" fill="none" stroke="#12528a" stroke-width="1.5" stroke-linejoin="round"/>
<polyline points="226.3,338.81 248.2,353.16 270,352.39 292,371.82 313.3,396.21 335,396.21" fill="none" stroke="#3ab54a" stroke-width="1.5" stroke-linejoin="round"/>
<circle cx="226.3" cy="338.81" r="2.1" fill="#c6112f"/>
<circle cx="248.2" cy="338.81" r="2.1" fill="#c6112f"/>
<circle cx="270" cy="346.89" r="2.1" fill="#c6112f"/>
<circle cx="292" cy="351.97" r="2.1" fill="#c6112f"/>
<circle cx="313.3" cy="348.08" r="2.1" fill="#c6112f"/>
<circle cx="335" cy="350.17" r="2.1" fill="#c6112f"/>
<rect x="224.55" y="337.06" width="3.5" height="3.5" fill="#12528a"/>
<rect x="246.45" y="345.85" width="3.5" height="3.5" fill="#12528a"/>
<rect x="268.25" y="345.14" width="3.5" height="3.5" fill="#12528a"/>
<rect x="290.25" y="355" width="3.5" height="3.5" fill="#12528a"/>
<rect x="311.55" y="386.99" width="3.5" height="3.5" fill="#12528a"/>
<rect x="333.25" y="394.46" width="3.5" height="3.5" fill="#12528a"/>
<path d="M226.3,336.61 L228.5,340.41 L224.1,340.41 Z" fill="#3ab54a"/>
<path d="M248.2,350.96 L250.4,354.76 L246,354.76 Z" fill="#3ab54a"/>
<path d="M270,350.19 L272.2,353.99 L267.8,353.99 Z" fill="#3ab54a"/>
<path d="M292,369.62 L294.2,373.42 L289.8,373.42 Z" fill="#3ab54a"/>
<path d="M313.3,394.01 L315.5,397.81 L311.1,397.81 Z" fill="#3ab54a"/>
<path d="M335,394.01 L337.2,397.81 L332.8,397.81 Z" fill="#3ab54a"/>
<line x1="386.6" y1="311" x2="386.6" y2="399.4" stroke="#151515" stroke-width="1.3" />
<line x1="386" y1="398.8" x2="517.5" y2="398.8" stroke="#151515" stroke-width="1.3" />
<line x1="383.6" y1="398.8" x2="386.6" y2="398.8" stroke="#1a1a1a" stroke-width="0.9" />
<text x="380.2" y="401.7" font-size="8.5" text-anchor="end" fill="#1c1c1c" textLength="10.8" lengthAdjust="spacingAndGlyphs" stroke="#1c1c1c" stroke-width="0.08" >0.0</text>
<line x1="383.6" y1="386.81" x2="386.6" y2="386.81" stroke="#1a1a1a" stroke-width="0.9" />
<text x="380.2" y="389.71" font-size="8.5" text-anchor="end" fill="#1c1c1c" textLength="10.8" lengthAdjust="spacingAndGlyphs" stroke="#1c1c1c" stroke-width="0.08" >0.2</text>
<line x1="383.6" y1="374.83" x2="386.6" y2="374.83" stroke="#1a1a1a" stroke-width="0.9" />
<text x="380.2" y="377.73" font-size="8.5" text-anchor="end" fill="#1c1c1c" textLength="10.8" lengthAdjust="spacingAndGlyphs" stroke="#1c1c1c" stroke-width="0.08" >0.4</text>
<line x1="383.6" y1="362.84" x2="386.6" y2="362.84" stroke="#1a1a1a" stroke-width="0.9" />
<text x="380.2" y="365.74" font-size="8.5" text-anchor="end" fill="#1c1c1c" textLength="10.8" lengthAdjust="spacingAndGlyphs" stroke="#1c1c1c" stroke-width="0.08" >0.6</text>
<line x1="383.6" y1="350.86" x2="386.6" y2="350.86" stroke="#1a1a1a" stroke-width="0.9" />
<text x="380.2" y="353.76" font-size="8.5" text-anchor="end" fill="#1c1c1c" textLength="10.8" lengthAdjust="spacingAndGlyphs" stroke="#1c1c1c" stroke-width="0.08" >0.8</text>
<line x1="383.6" y1="338.87" x2="386.6" y2="338.87" stroke="#1a1a1a" stroke-width="0.9" />
<text x="380.2" y="341.77" font-size="8.5" text-anchor="end" fill="#1c1c1c" textLength="10.8" lengthAdjust="spacingAndGlyphs" stroke="#1c1c1c" stroke-width="0.08" >1.0</text>
<line x1="383.6" y1="326.89" x2="386.6" y2="326.89" stroke="#1a1a1a" stroke-width="0.9" />
<text x="380.2" y="329.79" font-size="8.5" text-anchor="end" fill="#1c1c1c" textLength="10.8" lengthAdjust="spacingAndGlyphs" stroke="#1c1c1c" stroke-width="0.08" >1.2</text>
<line x1="383.6" y1="314.9" x2="386.6" y2="314.9" stroke="#1a1a1a" stroke-width="0.9" />
<text x="380.2" y="317.8" font-size="8.5" text-anchor="end" fill="#1c1c1c" textLength="10.8" lengthAdjust="spacingAndGlyphs" stroke="#1c1c1c" stroke-width="0.08" >1.4</text>
<line x1="397.6" y1="398.8" x2="397.6" y2="401.8" stroke="#1a1a1a" stroke-width="0.9" />
<text x="397.6" y="411.1" font-size="8.1" text-anchor="middle" fill="#1c1c1c" stroke="#1c1c1c" stroke-width="0.18" >0</text>
<text x="397.6" y="420.6" font-size="8.1" text-anchor="middle" fill="#1c1c1c" stroke="#1c1c1c" stroke-width="0.18" >0</text>
<line x1="419.5" y1="398.8" x2="419.5" y2="401.8" stroke="#1a1a1a" stroke-width="0.9" />
<text x="419.5" y="411.1" font-size="8.1" text-anchor="middle" fill="#1c1c1c" stroke="#1c1c1c" stroke-width="0.18" >64</text>
<text x="419.5" y="420.6" font-size="8.1" text-anchor="middle" fill="#1c1c1c" stroke="#1c1c1c" stroke-width="0.18" >50</text>
<line x1="441.3" y1="398.8" x2="441.3" y2="401.8" stroke="#1a1a1a" stroke-width="0.9" />
<text x="441.3" y="411.1" font-size="8.1" text-anchor="middle" fill="#1c1c1c" stroke="#1c1c1c" stroke-width="0.18" >128</text>
<text x="441.3" y="420.6" font-size="8.1" text-anchor="middle" fill="#1c1c1c" stroke="#1c1c1c" stroke-width="0.18" >100</text>
<line x1="462.7" y1="398.8" x2="462.7" y2="401.8" stroke="#1a1a1a" stroke-width="0.9" />
<text x="462.7" y="411.1" font-size="8.1" text-anchor="middle" fill="#1c1c1c" stroke="#1c1c1c" stroke-width="0.18" >256</text>
<text x="462.7" y="420.6" font-size="8.1" text-anchor="middle" fill="#1c1c1c" stroke="#1c1c1c" stroke-width="0.18" >200</text>
<line x1="484" y1="398.8" x2="484" y2="401.8" stroke="#1a1a1a" stroke-width="0.9" />
<text x="484" y="411.1" font-size="8.1" text-anchor="middle" fill="#1c1c1c" stroke="#1c1c1c" stroke-width="0.18" >512</text>
<text x="484" y="420.6" font-size="8.1" text-anchor="middle" fill="#1c1c1c" stroke="#1c1c1c" stroke-width="0.18" >400</text>
<line x1="505.5" y1="398.8" x2="505.5" y2="401.8" stroke="#1a1a1a" stroke-width="0.9" />
<text x="505.5" y="411.1" font-size="8.1" text-anchor="middle" fill="#1c1c1c" stroke="#1c1c1c" stroke-width="0.18" >1024</text>
<text x="505.5" y="420.6" font-size="8.1" text-anchor="middle" fill="#1c1c1c" stroke="#1c1c1c" stroke-width="0.18" >800</text>
<text transform="translate(361.9,354.9) rotate(-90)" x="0" y="0" font-size="8.6" textLength="55.9" lengthAdjust="spacingAndGlyphs" stroke="#1c1c1c" stroke-width="0.05" text-anchor="middle" fill="#1c1c1c">Relative viability</text>
<text x="393.8" y="392" font-size="8.8" text-anchor="start" fill="#1c1c1c" textLength="6.9" lengthAdjust="spacingAndGlyphs" stroke="#1c1c1c" stroke-width="0.22" >CI</text>
<text x="401.4" y="394" font-size="6" text-anchor="start" fill="#1c1c1c" textLength="13.8" lengthAdjust="spacingAndGlyphs" stroke="#1c1c1c" stroke-width="0.12" >ED50</text>
<text x="419.5" y="391.8" font-size="7.4" text-anchor="middle" fill="#1c1c1c" stroke="#1c1c1c" stroke-width="0.05" >=</text>
<text x="424.8" y="392" font-size="8.7" text-anchor="start" fill="#1c1c1c" textLength="19.6" lengthAdjust="spacingAndGlyphs" stroke="#1c1c1c" stroke-width="0.22" >0.540</text>
<text x="501" y="384.5" font-size="7.1" text-anchor="start" fill="#1c1c1c" stroke="#1c1c1c" stroke-width="0.18" >n.s.</text>
<line x1="419.5" y1="345.04" x2="419.5" y2="339.35" stroke="#151515" stroke-width="1.0" />
<line x1="417.6" y1="339.35" x2="421.4" y2="339.35" stroke="#151515" stroke-width="1.1" />
<line x1="441.3" y1="347.44" x2="441.3" y2="345.34" stroke="#151515" stroke-width="1.0" />
<line x1="439.4" y1="345.34" x2="443.2" y2="345.34" stroke="#151515" stroke-width="1.1" />
<line x1="462.7" y1="353.73" x2="462.7" y2="351.94" stroke="#151515" stroke-width="1.0" />
<line x1="460.8" y1="351.94" x2="464.6" y2="351.94" stroke="#151515" stroke-width="1.1" />
<line x1="484" y1="350.74" x2="484" y2="347.74" stroke="#151515" stroke-width="1.0" />
<line x1="482.1" y1="347.74" x2="485.9" y2="347.74" stroke="#151515" stroke-width="1.1" />
<line x1="505.5" y1="354.93" x2="505.5" y2="349.84" stroke="#151515" stroke-width="1.0" />
<line x1="503.6" y1="349.84" x2="507.4" y2="349.84" stroke="#151515" stroke-width="1.1" />
<line x1="419.5" y1="347.92" x2="419.5" y2="347.14" stroke="#151515" stroke-width="1.0" />
<line x1="417.6" y1="347.14" x2="421.4" y2="347.14" stroke="#151515" stroke-width="1.1" />
<line x1="441.3" y1="346.96" x2="441.3" y2="345.34" stroke="#151515" stroke-width="1.0" />
<line x1="439.4" y1="345.34" x2="443.2" y2="345.34" stroke="#151515" stroke-width="1.1" />
<line x1="462.7" y1="359.91" x2="462.7" y2="359.13" stroke="#151515" stroke-width="1.0" />
<line x1="460.8" y1="359.13" x2="464.6" y2="359.13" stroke="#151515" stroke-width="1.1" />
<line x1="419.5" y1="356.73" x2="419.5" y2="354.63" stroke="#151515" stroke-width="1.0" />
<line x1="417.6" y1="354.63" x2="421.4" y2="354.63" stroke="#151515" stroke-width="1.1" />
<line x1="441.3" y1="361.16" x2="441.3" y2="357.33" stroke="#151515" stroke-width="1.0" />
<line x1="439.4" y1="357.33" x2="443.2" y2="357.33" stroke="#151515" stroke-width="1.1" />
<line x1="462.7" y1="374.89" x2="462.7" y2="369.91" stroke="#151515" stroke-width="1.0" />
<line x1="460.8" y1="369.91" x2="464.6" y2="369.91" stroke="#151515" stroke-width="1.1" />
<line x1="484" y1="396.1" x2="484" y2="395.68" stroke="#151515" stroke-width="1.0" />
<line x1="482.1" y1="395.68" x2="485.9" y2="395.68" stroke="#151515" stroke-width="1.1" />
<line x1="505.5" y1="390.41" x2="505.5" y2="389.99" stroke="#151515" stroke-width="1.0" />
<line x1="503.6" y1="389.99" x2="507.4" y2="389.99" stroke="#151515" stroke-width="1.1" />
<polyline points="397.6,339.35 419.5,345.04 441.3,347.44 462.7,353.73 484,350.74 505.5,354.93" fill="none" stroke="#c6112f" stroke-width="1.5" stroke-linejoin="round"/>
<polyline points="397.6,339.35 419.5,347.92 441.3,346.96 462.7,359.91 484,389.87 505.5,389.87" fill="none" stroke="#12528a" stroke-width="1.5" stroke-linejoin="round"/>
<polyline points="397.6,339.35 419.5,356.73 441.3,361.16 462.7,374.89 484,396.1 505.5,390.41" fill="none" stroke="#3ab54a" stroke-width="1.5" stroke-linejoin="round"/>
<circle cx="397.6" cy="339.35" r="2.1" fill="#c6112f"/>
<circle cx="419.5" cy="345.04" r="2.1" fill="#c6112f"/>
<circle cx="441.3" cy="347.44" r="2.1" fill="#c6112f"/>
<circle cx="462.7" cy="353.73" r="2.1" fill="#c6112f"/>
<circle cx="484" cy="350.74" r="2.1" fill="#c6112f"/>
<circle cx="505.5" cy="354.93" r="2.1" fill="#c6112f"/>
<rect x="395.85" y="337.6" width="3.5" height="3.5" fill="#12528a"/>
<rect x="417.75" y="346.17" width="3.5" height="3.5" fill="#12528a"/>
<rect x="439.55" y="345.21" width="3.5" height="3.5" fill="#12528a"/>
<rect x="460.95" y="358.16" width="3.5" height="3.5" fill="#12528a"/>
<rect x="482.25" y="388.12" width="3.5" height="3.5" fill="#12528a"/>
<rect x="503.75" y="388.12" width="3.5" height="3.5" fill="#12528a"/>
<path d="M397.6,337.15 L399.8,340.95 L395.4,340.95 Z" fill="#3ab54a"/>
<path d="M419.5,354.53 L421.7,358.33 L417.3,358.33 Z" fill="#3ab54a"/>
<path d="M441.3,358.96 L443.5,362.76 L439.1,362.76 Z" fill="#3ab54a"/>
<path d="M462.7,372.69 L464.9,376.49 L460.5,376.49 Z" fill="#3ab54a"/>
<path d="M484,393.9 L486.2,397.7 L481.8,397.7 Z" fill="#3ab54a"/>
<path d="M505.5,388.21 L507.7,392.01 L503.3,392.01 Z" fill="#3ab54a"/>
<line x1="187.5" y1="293.8" x2="200.5" y2="293.8" stroke="#c6112f" stroke-width="1.4" />
<circle cx="194" cy="293.8" r="2.0" fill="#c6112f"/>
<text x="205.6" y="296.4" font-size="8.1" text-anchor="start" fill="#1c1c1c" textLength="31.06" lengthAdjust="spacingAndGlyphs" stroke="#1c1c1c" stroke-width="0.18" >Dasatinib</text>
<line x1="247.5" y1="293.8" x2="260.5" y2="293.8" stroke="#12528a" stroke-width="1.4" />
<rect x="252.2" y="292" width="3.6" height="3.6" fill="#12528a"/>
<text x="266.2" y="296.4" font-size="8.1" text-anchor="start" fill="#1c1c1c" textLength="31.47" lengthAdjust="spacingAndGlyphs" stroke="#1c1c1c" stroke-width="0.18" >AZD5991</text>
<line x1="306.3" y1="293.8" x2="319.5" y2="293.8" stroke="#3ab54a" stroke-width="1.4" />
<path d="M312.9,291.8 L314.9,295.3 L310.9,295.3 Z" fill="#3ab54a"/>
<text x="324.5" y="296.4" font-size="8.1" text-anchor="start" fill="#1c1c1c" textLength="49.07" lengthAdjust="spacingAndGlyphs" stroke="#1c1c1c" stroke-width="0.18" >Das+AZD5991</text>
<line x1="177.5" y1="431.7" x2="190" y2="431.7" stroke="#c6112f" stroke-width="1.4" />
<circle cx="183.75" cy="431.7" r="2.0" fill="#c6112f"/>
<text x="195.7" y="434.3" font-size="8.1" text-anchor="start" fill="#1c1c1c" textLength="43.46" lengthAdjust="spacingAndGlyphs" stroke="#1c1c1c" stroke-width="0.18" >Temsirolimus</text>
<line x1="248.2" y1="431.7" x2="260.5" y2="431.7" stroke="#12528a" stroke-width="1.4" />
<rect x="252.55" y="429.9" width="3.6" height="3.6" fill="#12528a"/>
<text x="265.7" y="434.3" font-size="8.1" text-anchor="start" fill="#1c1c1c" textLength="31.47" lengthAdjust="spacingAndGlyphs" stroke="#1c1c1c" stroke-width="0.18" >AZD5991</text>
<line x1="306.3" y1="431.7" x2="319.5" y2="431.7" stroke="#3ab54a" stroke-width="1.4" />
<path d="M312.9,429.7 L314.9,433.2 L310.9,433.2 Z" fill="#3ab54a"/>
<text x="324.5" y="434.3" font-size="8.1" text-anchor="start" fill="#1c1c1c" textLength="49.9" lengthAdjust="spacingAndGlyphs" stroke="#1c1c1c" stroke-width="0.18" >Tem+AZD5991</text>
<line x1="45.6" y1="473.3" x2="45.6" y2="559.5" stroke="#151515" stroke-width="1.3" />
<line x1="45" y1="558.9" x2="171" y2="558.9" stroke="#151515" stroke-width="1.3" />
<line x1="42.6" y1="558.9" x2="45.6" y2="558.9" stroke="#1a1a1a" stroke-width="0.9" />
<text x="38.9" y="561.55" font-size="8.7" text-anchor="end" fill="#1c1c1c" textLength="4.09" lengthAdjust="spacingAndGlyphs" stroke="#1c1c1c" stroke-width="0.08" >0</text>
<line x1="42.6" y1="542.58" x2="45.6" y2="542.58" stroke="#1a1a1a" stroke-width="0.9" />
<text x="38.9" y="545.23" font-size="8.7" text-anchor="end" fill="#1c1c1c" textLength="8.18" lengthAdjust="spacingAndGlyphs" stroke="#1c1c1c" stroke-width="0.08" >20</text>
<line x1="42.6" y1="526.26" x2="45.6" y2="526.26" stroke="#1a1a1a" stroke-width="0.9" />
<text x="38.9" y="528.91" font-size="8.7" text-anchor="end" fill="#1c1c1c" textLength="8.18" lengthAdjust="spacingAndGlyphs" stroke="#1c1c1c" stroke-width="0.08" >40</text>
<line x1="42.6" y1="509.94" x2="45.6" y2="509.94" stroke="#1a1a1a" stroke-width="0.9" />
<text x="38.9" y="512.59" font-size="8.7" text-anchor="end" fill="#1c1c1c" textLength="8.18" lengthAdjust="spacingAndGlyphs" stroke="#1c1c1c" stroke-width="0.08" >60</text>
<line x1="42.6" y1="493.62" x2="45.6" y2="493.62" stroke="#1a1a1a" stroke-width="0.9" />
<text x="38.9" y="496.27" font-size="8.7" text-anchor="end" fill="#1c1c1c" textLength="8.18" lengthAdjust="spacingAndGlyphs" stroke="#1c1c1c" stroke-width="0.08" >80</text>
<line x1="42.6" y1="477.3" x2="45.6" y2="477.3" stroke="#1a1a1a" stroke-width="0.9" />
<text x="38.9" y="479.95" font-size="8.7" text-anchor="end" fill="#1c1c1c" textLength="12.26" lengthAdjust="spacingAndGlyphs" stroke="#1c1c1c" stroke-width="0.08" >100</text>
<text transform="translate(21,515.8) rotate(-90)" x="0" y="0" font-size="8.8" textLength="31.2" lengthAdjust="spacingAndGlyphs" stroke="#1c1c1c" stroke-width="0.05" text-anchor="middle" fill="#1c1c1c">% of cells</text>
<rect x="52.35" y="477.71" width="13.5" height="2.2" fill="#c6112f"/>
<rect x="52.35" y="479.91" width="13.5" height="0.24" fill="#3ab54a"/>
<rect x="52.35" y="480.16" width="13.5" height="78.74" fill="#12528a"/>
<line x1="56.3" y1="479.96" x2="61.9" y2="479.96" stroke="#151515" stroke-width="1.2" />
<line x1="56.3" y1="479.71" x2="61.9" y2="479.71" stroke="#151515" stroke-width="1.2" />
<line x1="56.3" y1="477.51" x2="61.9" y2="477.51" stroke="#151515" stroke-width="1.2" />
<line x1="59.1" y1="558.9" x2="59.1" y2="561.9" stroke="#151515" stroke-width="0.9" />
<line x1="59.1" y1="480.16" x2="59.1" y2="478.52" stroke="#151515" stroke-width="1.0" />
<line x1="56.3" y1="478.52" x2="61.9" y2="478.52" stroke="#151515" stroke-width="1.2" />
<line x1="57.2" y1="569.2" x2="61" y2="569.2" stroke="#222" stroke-width="1.0" />
<line x1="57.2" y1="578.9" x2="61" y2="578.9" stroke="#222" stroke-width="1.0" />
<line x1="57.2" y1="588.4" x2="61" y2="588.4" stroke="#222" stroke-width="1.0" />
<rect x="72.65" y="477.71" width="13.5" height="1.39" fill="#c6112f"/>
<rect x="72.65" y="479.1" width="13.5" height="0.24" fill="#3ab54a"/>
<rect x="72.65" y="479.34" width="13.5" height="79.56" fill="#12528a"/>
<line x1="76.6" y1="479.14" x2="82.2" y2="479.14" stroke="#151515" stroke-width="1.2" />
<line x1="76.6" y1="478.9" x2="82.2" y2="478.9" stroke="#151515" stroke-width="1.2" />
<line x1="76.6" y1="477.51" x2="82.2" y2="477.51" stroke="#151515" stroke-width="1.2" />
<line x1="79.4" y1="558.9" x2="79.4" y2="561.9" stroke="#151515" stroke-width="0.9" />
<line x1="77.3" y1="569.2" x2="81.5" y2="569.2" stroke="#222" stroke-width="1.0" />
<line x1="79.4" y1="567" x2="79.4" y2="571.4" stroke="#222" stroke-width="1.0" />
<line x1="77.5" y1="578.9" x2="81.3" y2="578.9" stroke="#222" stroke-width="1.0" />
<line x1="77.5" y1="588.4" x2="81.3" y2="588.4" stroke="#222" stroke-width="1.0" />
<rect x="92.95" y="477.71" width="13.5" height="2.2" fill="#c6112f"/>
<rect x="92.95" y="479.91" width="13.5" height="0.24" fill="#3ab54a"/>
<rect x="92.95" y="480.16" width="13.5" height="78.74" fill="#12528a"/>
<line x1="96.9" y1="479.96" x2="102.5" y2="479.96" stroke="#151515" stroke-width="1.2" />
<line x1="96.9" y1="479.71" x2="102.5" y2="479.71" stroke="#151515" stroke-width="1.2" />
<line x1="96.9" y1="477.51" x2="102.5" y2="477.51" stroke="#151515" stroke-width="1.2" />
<line x1="99.7" y1="558.9" x2="99.7" y2="561.9" stroke="#151515" stroke-width="0.9" />
<line x1="99.7" y1="480.16" x2="99.7" y2="478.28" stroke="#151515" stroke-width="1.0" />
<line x1="96.9" y1="478.28" x2="102.5" y2="478.28" stroke="#151515" stroke-width="1.2" />
<line x1="97.8" y1="569.2" x2="101.6" y2="569.2" stroke="#222" stroke-width="1.0" />
<line x1="97.6" y1="578.9" x2="101.8" y2="578.9" stroke="#222" stroke-width="1.0" />
<line x1="99.7" y1="576.7" x2="99.7" y2="581.1" stroke="#222" stroke-width="1.0" />
<line x1="97.8" y1="588.4" x2="101.6" y2="588.4" stroke="#222" stroke-width="1.0" />
<rect x="113.25" y="477.71" width="13.5" height="21.62" fill="#c6112f"/>
<rect x="113.25" y="499.33" width="13.5" height="57.94" fill="#3ab54a"/>
<rect x="113.25" y="557.27" width="13.5" height="1.63" fill="#12528a"/>
<line x1="117.2" y1="557.07" x2="122.8" y2="557.07" stroke="#151515" stroke-width="1.2" />
<line x1="117.2" y1="499.13" x2="122.8" y2="499.13" stroke="#151515" stroke-width="1.2" />
<line x1="117.2" y1="477.51" x2="122.8" y2="477.51" stroke="#151515" stroke-width="1.2" />
<line x1="120" y1="558.9" x2="120" y2="561.9" stroke="#151515" stroke-width="0.9" />
<line x1="118.1" y1="569.2" x2="121.9" y2="569.2" stroke="#222" stroke-width="1.0" />
<line x1="118.1" y1="578.9" x2="121.9" y2="578.9" stroke="#222" stroke-width="1.0" />
<line x1="117.9" y1="588.4" x2="122.1" y2="588.4" stroke="#222" stroke-width="1.0" />
<line x1="120" y1="586.2" x2="120" y2="590.6" stroke="#222" stroke-width="1.0" />
<rect x="133.65" y="477.71" width="13.5" height="8.89" fill="#c6112f"/>
<rect x="133.65" y="486.6" width="13.5" height="70.67" fill="#3ab54a"/>
<rect x="133.65" y="557.27" width="13.5" height="1.63" fill="#12528a"/>
<line x1="137.6" y1="557.07" x2="143.2" y2="557.07" stroke="#151515" stroke-width="1.2" />
<line x1="137.6" y1="486.4" x2="143.2" y2="486.4" stroke="#151515" stroke-width="1.2" />
<line x1="137.6" y1="477.51" x2="143.2" y2="477.51" stroke="#151515" stroke-width="1.2" />
<line x1="140.4" y1="558.9" x2="140.4" y2="561.9" stroke="#151515" stroke-width="0.9" />
<line x1="138.3" y1="569.2" x2="142.5" y2="569.2" stroke="#222" stroke-width="1.0" />
<line x1="140.4" y1="567" x2="140.4" y2="571.4" stroke="#222" stroke-width="1.0" />
<line x1="138.5" y1="578.9" x2="142.3" y2="578.9" stroke="#222" stroke-width="1.0" />
<line x1="138.3" y1="588.4" x2="142.5" y2="588.4" stroke="#222" stroke-width="1.0" />
<line x1="140.4" y1="586.2" x2="140.4" y2="590.6" stroke="#222" stroke-width="1.0" />
<rect x="154.05" y="477.71" width="13.5" height="11.51" fill="#c6112f"/>
<rect x="154.05" y="489.21" width="13.5" height="68.05" fill="#3ab54a"/>
<rect x="154.05" y="557.27" width="13.5" height="1.63" fill="#12528a"/>
<line x1="158" y1="557.07" x2="163.6" y2="557.07" stroke="#151515" stroke-width="1.2" />
<line x1="158" y1="489.01" x2="163.6" y2="489.01" stroke="#151515" stroke-width="1.2" />
<line x1="158" y1="477.51" x2="163.6" y2="477.51" stroke="#151515" stroke-width="1.2" />
<line x1="160.8" y1="558.9" x2="160.8" y2="561.9" stroke="#151515" stroke-width="0.9" />
<line x1="158.9" y1="569.2" x2="162.7" y2="569.2" stroke="#222" stroke-width="1.0" />
<line x1="158.7" y1="578.9" x2="162.9" y2="578.9" stroke="#222" stroke-width="1.0" />
<line x1="160.8" y1="576.7" x2="160.8" y2="581.1" stroke="#222" stroke-width="1.0" />
<line x1="158.7" y1="588.4" x2="162.9" y2="588.4" stroke="#222" stroke-width="1.0" />
<line x1="160.8" y1="586.2" x2="160.8" y2="590.6" stroke="#222" stroke-width="1.0" />
<line x1="58.8" y1="458.7" x2="165.2" y2="458.7" stroke="#565656" stroke-width="1.3" />
<circle cx="107.65" cy="456.2" r="1.2" fill="#222"/>
<circle cx="110.75" cy="456.2" r="1.2" fill="#222"/>
<circle cx="113.85" cy="456.2" r="1.2" fill="#222"/>
<circle cx="116.95" cy="456.2" r="1.2" fill="#222"/>
<line x1="58.8" y1="466" x2="141" y2="466" stroke="#565656" stroke-width="1.3" />
<circle cx="99.5" cy="463.5" r="1.2" fill="#222"/>
<line x1="58.8" y1="473.8" x2="120.2" y2="473.8" stroke="#565656" stroke-width="1.3" />
<circle cx="85.15" cy="471.3" r="1.2" fill="#222"/>
<circle cx="88.25" cy="471.3" r="1.2" fill="#222"/>
<circle cx="91.35" cy="471.3" r="1.2" fill="#222"/>
<circle cx="94.45" cy="471.3" r="1.2" fill="#222"/>
<line x1="215.1" y1="473.3" x2="215.1" y2="559.5" stroke="#151515" stroke-width="1.3" />
<line x1="214.5" y1="558.9" x2="340.5" y2="558.9" stroke="#151515" stroke-width="1.3" />
<line x1="212.1" y1="558.9" x2="215.1" y2="558.9" stroke="#1a1a1a" stroke-width="0.9" />
<text x="208.4" y="561.55" font-size="8.7" text-anchor="end" fill="#1c1c1c" textLength="4.09" lengthAdjust="spacingAndGlyphs" stroke="#1c1c1c" stroke-width="0.08" >0</text>
<line x1="212.1" y1="542.58" x2="215.1" y2="542.58" stroke="#1a1a1a" stroke-width="0.9" />
<text x="208.4" y="545.23" font-size="8.7" text-anchor="end" fill="#1c1c1c" textLength="8.18" lengthAdjust="spacingAndGlyphs" stroke="#1c1c1c" stroke-width="0.08" >20</text>
<line x1="212.1" y1="526.26" x2="215.1" y2="526.26" stroke="#1a1a1a" stroke-width="0.9" />
<text x="208.4" y="528.91" font-size="8.7" text-anchor="end" fill="#1c1c1c" textLength="8.18" lengthAdjust="spacingAndGlyphs" stroke="#1c1c1c" stroke-width="0.08" >40</text>
<line x1="212.1" y1="509.94" x2="215.1" y2="509.94" stroke="#1a1a1a" stroke-width="0.9" />
<text x="208.4" y="512.59" font-size="8.7" text-anchor="end" fill="#1c1c1c" textLength="8.18" lengthAdjust="spacingAndGlyphs" stroke="#1c1c1c" stroke-width="0.08" >60</text>
<line x1="212.1" y1="493.62" x2="215.1" y2="493.62" stroke="#1a1a1a" stroke-width="0.9" />
<text x="208.4" y="496.27" font-size="8.7" text-anchor="end" fill="#1c1c1c" textLength="8.18" lengthAdjust="spacingAndGlyphs" stroke="#1c1c1c" stroke-width="0.08" >80</text>
<line x1="212.1" y1="477.3" x2="215.1" y2="477.3" stroke="#1a1a1a" stroke-width="0.9" />
<text x="208.4" y="479.95" font-size="8.7" text-anchor="end" fill="#1c1c1c" textLength="12.26" lengthAdjust="spacingAndGlyphs" stroke="#1c1c1c" stroke-width="0.08" >100</text>
<text transform="translate(190.5,515.8) rotate(-90)" x="0" y="0" font-size="8.8" textLength="31.2" lengthAdjust="spacingAndGlyphs" stroke="#1c1c1c" stroke-width="0.05" text-anchor="middle" fill="#1c1c1c">% of cells</text>
<rect x="221.85" y="477.63" width="13.5" height="2.12" fill="#c6112f"/>
<rect x="221.85" y="479.75" width="13.5" height="9.06" fill="#3ab54a"/>
<rect x="221.85" y="488.81" width="13.5" height="70.09" fill="#12528a"/>
<line x1="225.8" y1="488.61" x2="231.4" y2="488.61" stroke="#151515" stroke-width="1.2" />
<line x1="225.8" y1="479.55" x2="231.4" y2="479.55" stroke="#151515" stroke-width="1.2" />
<line x1="225.8" y1="477.43" x2="231.4" y2="477.43" stroke="#151515" stroke-width="1.2" />
<line x1="228.6" y1="558.9" x2="228.6" y2="561.9" stroke="#151515" stroke-width="0.9" />
<line x1="226.7" y1="569.2" x2="230.5" y2="569.2" stroke="#222" stroke-width="1.0" />
<line x1="226.7" y1="578.9" x2="230.5" y2="578.9" stroke="#222" stroke-width="1.0" />
<line x1="226.7" y1="588.4" x2="230.5" y2="588.4" stroke="#222" stroke-width="1.0" />
<rect x="242.15" y="477.71" width="13.5" height="2.2" fill="#c6112f"/>
<rect x="242.15" y="479.91" width="13.5" height="12.73" fill="#3ab54a"/>
<rect x="242.15" y="492.64" width="13.5" height="66.26" fill="#12528a"/>
<line x1="246.1" y1="492.44" x2="251.7" y2="492.44" stroke="#151515" stroke-width="1.2" />
<line x1="246.1" y1="479.71" x2="251.7" y2="479.71" stroke="#151515" stroke-width="1.2" />
<line x1="246.1" y1="477.51" x2="251.7" y2="477.51" stroke="#151515" stroke-width="1.2" />
<line x1="248.9" y1="558.9" x2="248.9" y2="561.9" stroke="#151515" stroke-width="0.9" />
<line x1="246.8" y1="569.2" x2="251" y2="569.2" stroke="#222" stroke-width="1.0" />
<line x1="248.9" y1="567" x2="248.9" y2="571.4" stroke="#222" stroke-width="1.0" />
<line x1="247" y1="578.9" x2="250.8" y2="578.9" stroke="#222" stroke-width="1.0" />
<line x1="247" y1="588.4" x2="250.8" y2="588.4" stroke="#222" stroke-width="1.0" />
<rect x="262.45" y="477.63" width="13.5" height="2.28" fill="#c6112f"/>
<rect x="262.45" y="479.91" width="13.5" height="8.16" fill="#3ab54a"/>
<rect x="262.45" y="488.07" width="13.5" height="70.83" fill="#12528a"/>
<line x1="266.4" y1="487.87" x2="272" y2="487.87" stroke="#151515" stroke-width="1.2" />
<line x1="266.4" y1="479.71" x2="272" y2="479.71" stroke="#151515" stroke-width="1.2" />
<line x1="266.4" y1="477.43" x2="272" y2="477.43" stroke="#151515" stroke-width="1.2" />
<line x1="269.2" y1="558.9" x2="269.2" y2="561.9" stroke="#151515" stroke-width="0.9" />
<line x1="267.3" y1="569.2" x2="271.1" y2="569.2" stroke="#222" stroke-width="1.0" />
<line x1="267.1" y1="578.9" x2="271.3" y2="578.9" stroke="#222" stroke-width="1.0" />
<line x1="269.2" y1="576.7" x2="269.2" y2="581.1" stroke="#222" stroke-width="1.0" />
<line x1="267.3" y1="588.4" x2="271.1" y2="588.4" stroke="#222" stroke-width="1.0" />
<rect x="282.75" y="477.63" width="13.5" height="4.57" fill="#c6112f"/>
<rect x="282.75" y="482.2" width="13.5" height="58.34" fill="#3ab54a"/>
<rect x="282.75" y="540.54" width="13.5" height="18.36" fill="#12528a"/>
<line x1="286.7" y1="540.34" x2="292.3" y2="540.34" stroke="#151515" stroke-width="1.2" />
<line x1="286.7" y1="482" x2="292.3" y2="482" stroke="#151515" stroke-width="1.2" />
<line x1="286.7" y1="477.43" x2="292.3" y2="477.43" stroke="#151515" stroke-width="1.2" />
<line x1="289.5" y1="558.9" x2="289.5" y2="561.9" stroke="#151515" stroke-width="0.9" />
<line x1="289.5" y1="540.54" x2="289.5" y2="538.09" stroke="#151515" stroke-width="1.0" />
<line x1="286.7" y1="538.09" x2="292.3" y2="538.09" stroke="#151515" stroke-width="1.2" />
<line x1="287.6" y1="569.2" x2="291.4" y2="569.2" stroke="#222" stroke-width="1.0" />
<line x1="287.6" y1="578.9" x2="291.4" y2="578.9" stroke="#222" stroke-width="1.0" />
<line x1="287.4" y1="588.4" x2="291.6" y2="588.4" stroke="#222" stroke-width="1.0" />
<line x1="289.5" y1="586.2" x2="289.5" y2="590.6" stroke="#222" stroke-width="1.0" />
<rect x="303.15" y="477.71" width="13.5" height="2.86" fill="#c6112f"/>
<rect x="303.15" y="480.56" width="13.5" height="65.69" fill="#3ab54a"/>
<rect x="303.15" y="546.25" width="13.5" height="12.65" fill="#12528a"/>
<line x1="307.1" y1="546.05" x2="312.7" y2="546.05" stroke="#151515" stroke-width="1.2" />
<line x1="307.1" y1="480.36" x2="312.7" y2="480.36" stroke="#151515" stroke-width="1.2" />
<line x1="307.1" y1="477.51" x2="312.7" y2="477.51" stroke="#151515" stroke-width="1.2" />
<line x1="309.9" y1="558.9" x2="309.9" y2="561.9" stroke="#151515" stroke-width="0.9" />
<line x1="307.8" y1="569.2" x2="312" y2="569.2" stroke="#222" stroke-width="1.0" />
<line x1="309.9" y1="567" x2="309.9" y2="571.4" stroke="#222" stroke-width="1.0" />
<line x1="308" y1="578.9" x2="311.8" y2="578.9" stroke="#222" stroke-width="1.0" />
<line x1="307.8" y1="588.4" x2="312" y2="588.4" stroke="#222" stroke-width="1.0" />
<line x1="309.9" y1="586.2" x2="309.9" y2="590.6" stroke="#222" stroke-width="1.0" />
<rect x="323.55" y="478.69" width="13.5" height="5.79" fill="#c6112f"/>
<rect x="323.55" y="484.48" width="13.5" height="57.45" fill="#3ab54a"/>
<rect x="323.55" y="541.93" width="13.5" height="16.97" fill="#12528a"/>
<line x1="327.5" y1="541.73" x2="333.1" y2="541.73" stroke="#151515" stroke-width="1.2" />
<line x1="327.5" y1="484.28" x2="333.1" y2="484.28" stroke="#151515" stroke-width="1.2" />
<line x1="327.5" y1="478.49" x2="333.1" y2="478.49" stroke="#151515" stroke-width="1.2" />
<line x1="330.3" y1="558.9" x2="330.3" y2="561.9" stroke="#151515" stroke-width="0.9" />
<line x1="330.3" y1="484.48" x2="330.3" y2="482.6" stroke="#151515" stroke-width="1.0" />
<line x1="327.5" y1="482.6" x2="333.1" y2="482.6" stroke="#151515" stroke-width="1.2" />
<line x1="328.4" y1="569.2" x2="332.2" y2="569.2" stroke="#222" stroke-width="1.0" />
<line x1="328.2" y1="578.9" x2="332.4" y2="578.9" stroke="#222" stroke-width="1.0" />
<line x1="330.3" y1="576.7" x2="330.3" y2="581.1" stroke="#222" stroke-width="1.0" />
<line x1="328.2" y1="588.4" x2="332.4" y2="588.4" stroke="#222" stroke-width="1.0" />
<line x1="330.3" y1="586.2" x2="330.3" y2="590.6" stroke="#222" stroke-width="1.0" />
<line x1="227.5" y1="458.5" x2="328.5" y2="458.5" stroke="#565656" stroke-width="1.3" />
<circle cx="274.9" cy="455.8" r="1.2" fill="#222"/>
<circle cx="278" cy="455.8" r="1.2" fill="#222"/>
<circle cx="281.1" cy="455.8" r="1.2" fill="#222"/>
<line x1="227.5" y1="465.2" x2="309.6" y2="465.2" stroke="#565656" stroke-width="1.3" />
<circle cx="268.7" cy="462.5" r="1.2" fill="#222"/>
<line x1="227.5" y1="471.9" x2="288.6" y2="471.9" stroke="#565656" stroke-width="1.3" />
<circle cx="256.95" cy="469.2" r="1.2" fill="#222"/>
<circle cx="260.05" cy="469.2" r="1.2" fill="#222"/>
<line x1="387" y1="473.3" x2="387" y2="559.5" stroke="#151515" stroke-width="1.3" />
<line x1="386.4" y1="558.9" x2="512.4" y2="558.9" stroke="#151515" stroke-width="1.3" />
<line x1="384" y1="558.9" x2="387" y2="558.9" stroke="#1a1a1a" stroke-width="0.9" />
<text x="380.3" y="561.55" font-size="8.7" text-anchor="end" fill="#1c1c1c" textLength="4.09" lengthAdjust="spacingAndGlyphs" stroke="#1c1c1c" stroke-width="0.08" >0</text>
<line x1="384" y1="542.58" x2="387" y2="542.58" stroke="#1a1a1a" stroke-width="0.9" />
<text x="380.3" y="545.23" font-size="8.7" text-anchor="end" fill="#1c1c1c" textLength="8.18" lengthAdjust="spacingAndGlyphs" stroke="#1c1c1c" stroke-width="0.08" >20</text>
<line x1="384" y1="526.26" x2="387" y2="526.26" stroke="#1a1a1a" stroke-width="0.9" />
<text x="380.3" y="528.91" font-size="8.7" text-anchor="end" fill="#1c1c1c" textLength="8.18" lengthAdjust="spacingAndGlyphs" stroke="#1c1c1c" stroke-width="0.08" >40</text>
<line x1="384" y1="509.94" x2="387" y2="509.94" stroke="#1a1a1a" stroke-width="0.9" />
<text x="380.3" y="512.59" font-size="8.7" text-anchor="end" fill="#1c1c1c" textLength="8.18" lengthAdjust="spacingAndGlyphs" stroke="#1c1c1c" stroke-width="0.08" >60</text>
<line x1="384" y1="493.62" x2="387" y2="493.62" stroke="#1a1a1a" stroke-width="0.9" />
<text x="380.3" y="496.27" font-size="8.7" text-anchor="end" fill="#1c1c1c" textLength="8.18" lengthAdjust="spacingAndGlyphs" stroke="#1c1c1c" stroke-width="0.08" >80</text>
<line x1="384" y1="477.3" x2="387" y2="477.3" stroke="#1a1a1a" stroke-width="0.9" />
<text x="380.3" y="479.95" font-size="8.7" text-anchor="end" fill="#1c1c1c" textLength="12.26" lengthAdjust="spacingAndGlyphs" stroke="#1c1c1c" stroke-width="0.08" >100</text>
<text transform="translate(362.4,515.8) rotate(-90)" x="0" y="0" font-size="8.8" textLength="31.2" lengthAdjust="spacingAndGlyphs" stroke="#1c1c1c" stroke-width="0.05" text-anchor="middle" fill="#1c1c1c">% of cells</text>
<rect x="393.75" y="477.95" width="13.5" height="0.73" fill="#c6112f"/>
<rect x="393.75" y="478.69" width="13.5" height="0.08" fill="#3ab54a"/>
<rect x="393.75" y="478.77" width="13.5" height="80.13" fill="#12528a"/>
<line x1="397.7" y1="478.57" x2="403.3" y2="478.57" stroke="#151515" stroke-width="1.2" />
<line x1="397.7" y1="478.49" x2="403.3" y2="478.49" stroke="#151515" stroke-width="1.2" />
<line x1="397.7" y1="477.75" x2="403.3" y2="477.75" stroke="#151515" stroke-width="1.2" />
<line x1="400.5" y1="558.9" x2="400.5" y2="561.9" stroke="#151515" stroke-width="0.9" />
<line x1="398.6" y1="569.2" x2="402.4" y2="569.2" stroke="#222" stroke-width="1.0" />
<line x1="398.6" y1="578.9" x2="402.4" y2="578.9" stroke="#222" stroke-width="1.0" />
<line x1="398.6" y1="588.4" x2="402.4" y2="588.4" stroke="#222" stroke-width="1.0" />
<rect x="414.05" y="478.69" width="13.5" height="3.75" fill="#c6112f"/>
<rect x="414.05" y="482.44" width="13.5" height="0.08" fill="#3ab54a"/>
<rect x="414.05" y="482.52" width="13.5" height="76.38" fill="#12528a"/>
<line x1="418" y1="482.32" x2="423.6" y2="482.32" stroke="#151515" stroke-width="1.2" />
<line x1="418" y1="482.24" x2="423.6" y2="482.24" stroke="#151515" stroke-width="1.2" />
<line x1="418" y1="478.49" x2="423.6" y2="478.49" stroke="#151515" stroke-width="1.2" />
<line x1="420.8" y1="558.9" x2="420.8" y2="561.9" stroke="#151515" stroke-width="0.9" />
<line x1="420.8" y1="478.69" x2="420.8" y2="477.63" stroke="#151515" stroke-width="1.0" />
<line x1="418" y1="477.63" x2="423.6" y2="477.63" stroke="#151515" stroke-width="1.2" />
<line x1="418.7" y1="569.2" x2="422.9" y2="569.2" stroke="#222" stroke-width="1.0" />
<line x1="420.8" y1="567" x2="420.8" y2="571.4" stroke="#222" stroke-width="1.0" />
<line x1="418.9" y1="578.9" x2="422.7" y2="578.9" stroke="#222" stroke-width="1.0" />
<line x1="418.9" y1="588.4" x2="422.7" y2="588.4" stroke="#222" stroke-width="1.0" />
<rect x="434.35" y="478.03" width="13.5" height="0.65" fill="#c6112f"/>
<rect x="434.35" y="478.69" width="13.5" height="0.08" fill="#3ab54a"/>
<rect x="434.35" y="478.77" width="13.5" height="80.13" fill="#12528a"/>
<line x1="438.3" y1="478.57" x2="443.9" y2="478.57" stroke="#151515" stroke-width="1.2" />
<line x1="438.3" y1="478.49" x2="443.9" y2="478.49" stroke="#151515" stroke-width="1.2" />
<line x1="438.3" y1="477.83" x2="443.9" y2="477.83" stroke="#151515" stroke-width="1.2" />
<line x1="441.1" y1="558.9" x2="441.1" y2="561.9" stroke="#151515" stroke-width="0.9" />
<line x1="439.2" y1="569.2" x2="443" y2="569.2" stroke="#222" stroke-width="1.0" />
<line x1="439" y1="578.9" x2="443.2" y2="578.9" stroke="#222" stroke-width="1.0" />
<line x1="441.1" y1="576.7" x2="441.1" y2="581.1" stroke="#222" stroke-width="1.0" />
<line x1="439.2" y1="588.4" x2="443" y2="588.4" stroke="#222" stroke-width="1.0" />
<rect x="454.65" y="477.87" width="13.5" height="37.78" fill="#c6112f"/>
<rect x="454.65" y="515.65" width="13.5" height="39.49" fill="#3ab54a"/>
<rect x="454.65" y="555.15" width="13.5" height="3.75" fill="#12528a"/>
<line x1="458.6" y1="554.95" x2="464.2" y2="554.95" stroke="#151515" stroke-width="1.2" />
<line x1="458.6" y1="515.45" x2="464.2" y2="515.45" stroke="#151515" stroke-width="1.2" />
<line x1="458.6" y1="477.67" x2="464.2" y2="477.67" stroke="#151515" stroke-width="1.2" />
<line x1="461.4" y1="558.9" x2="461.4" y2="561.9" stroke="#151515" stroke-width="0.9" />
<line x1="459.5" y1="569.2" x2="463.3" y2="569.2" stroke="#222" stroke-width="1.0" />
<line x1="459.5" y1="578.9" x2="463.3" y2="578.9" stroke="#222" stroke-width="1.0" />
<line x1="459.3" y1="588.4" x2="463.5" y2="588.4" stroke="#222" stroke-width="1.0" />
<line x1="461.4" y1="586.2" x2="461.4" y2="590.6" stroke="#222" stroke-width="1.0" />
<rect x="475.05" y="477.87" width="13.5" height="33.54" fill="#c6112f"/>
<rect x="475.05" y="511.41" width="13.5" height="44.55" fill="#3ab54a"/>
<rect x="475.05" y="555.96" width="13.5" height="2.94" fill="#12528a"/>
<line x1="479" y1="555.76" x2="484.6" y2="555.76" stroke="#151515" stroke-width="1.2" />
<line x1="479" y1="511.21" x2="484.6" y2="511.21" stroke="#151515" stroke-width="1.2" />
<line x1="479" y1="477.67" x2="484.6" y2="477.67" stroke="#151515" stroke-width="1.2" />
<line x1="481.8" y1="558.9" x2="481.8" y2="561.9" stroke="#151515" stroke-width="0.9" />
<line x1="481.8" y1="477.87" x2="481.8" y2="475.42" stroke="#151515" stroke-width="1.0" />
<line x1="479" y1="475.42" x2="484.6" y2="475.42" stroke="#151515" stroke-width="1.2" />
<line x1="481.8" y1="511.41" x2="481.8" y2="508.06" stroke="#151515" stroke-width="1.0" />
<line x1="479" y1="508.06" x2="484.6" y2="508.06" stroke="#151515" stroke-width="1.2" />
<line x1="479.7" y1="569.2" x2="483.9" y2="569.2" stroke="#222" stroke-width="1.0" />
<line x1="481.8" y1="567" x2="481.8" y2="571.4" stroke="#222" stroke-width="1.0" />
<line x1="479.9" y1="578.9" x2="483.7" y2="578.9" stroke="#222" stroke-width="1.0" />
<line x1="479.7" y1="588.4" x2="483.9" y2="588.4" stroke="#222" stroke-width="1.0" />
<line x1="481.8" y1="586.2" x2="481.8" y2="590.6" stroke="#222" stroke-width="1.0" />
<rect x="495.45" y="477.95" width="13.5" height="22.77" fill="#c6112f"/>
<rect x="495.45" y="500.72" width="13.5" height="49.37" fill="#3ab54a"/>
<rect x="495.45" y="550.09" width="13.5" height="8.81" fill="#12528a"/>
<line x1="499.4" y1="549.89" x2="505" y2="549.89" stroke="#151515" stroke-width="1.2" />
<line x1="499.4" y1="500.52" x2="505" y2="500.52" stroke="#151515" stroke-width="1.2" />
<line x1="499.4" y1="477.75" x2="505" y2="477.75" stroke="#151515" stroke-width="1.2" />
<line x1="502.2" y1="558.9" x2="502.2" y2="561.9" stroke="#151515" stroke-width="0.9" />
<line x1="500.3" y1="569.2" x2="504.1" y2="569.2" stroke="#222" stroke-width="1.0" />
<line x1="500.1" y1="578.9" x2="504.3" y2="578.9" stroke="#222" stroke-width="1.0" />
<line x1="502.2" y1="576.7" x2="502.2" y2="581.1" stroke="#222" stroke-width="1.0" />
<line x1="500.1" y1="588.4" x2="504.3" y2="588.4" stroke="#222" stroke-width="1.0" />
<line x1="502.2" y1="586.2" x2="502.2" y2="590.6" stroke="#222" stroke-width="1.0" />
<line x1="400.2" y1="459.5" x2="501.3" y2="459.5" stroke="#565656" stroke-width="1.3" />
<circle cx="445.75" cy="457" r="1.2" fill="#222"/>
<circle cx="448.85" cy="457" r="1.2" fill="#222"/>
<circle cx="451.95" cy="457" r="1.2" fill="#222"/>
<circle cx="455.05" cy="457" r="1.2" fill="#222"/>
<line x1="400.2" y1="467" x2="481.3" y2="467" stroke="#565656" stroke-width="1.3" />
<circle cx="436.15" cy="464.3" r="1.2" fill="#222"/>
<circle cx="439.25" cy="464.3" r="1.2" fill="#222"/>
<circle cx="442.35" cy="464.3" r="1.2" fill="#222"/>
<circle cx="445.45" cy="464.3" r="1.2" fill="#222"/>
<line x1="400.2" y1="473.8" x2="461.3" y2="473.8" stroke="#565656" stroke-width="1.3" />
<circle cx="425.75" cy="471.3" r="1.2" fill="#222"/>
<circle cx="428.85" cy="471.3" r="1.2" fill="#222"/>
<circle cx="431.95" cy="471.3" r="1.2" fill="#222"/>
<circle cx="435.05" cy="471.3" r="1.2" fill="#222"/>
<text x="50.8" y="571.8" font-size="8.6" text-anchor="end" fill="#1c1c1c" textLength="33.5" lengthAdjust="spacingAndGlyphs" stroke="#1c1c1c" stroke-width="0.18" >Dasatinib</text>
<text x="50.8" y="581.4" font-size="8.6" text-anchor="end" fill="#1c1c1c" textLength="45.6" lengthAdjust="spacingAndGlyphs" stroke="#1c1c1c" stroke-width="0.18" >Temsirolimus</text>
<text x="50.8" y="590.8" font-size="8.6" text-anchor="end" fill="#1c1c1c" textLength="33.7" lengthAdjust="spacingAndGlyphs" stroke="#1c1c1c" stroke-width="0.18" >AZD5991</text>
<rect x="198.8" y="601.2" width="4.8" height="4.8" fill="#c6112f"/>
<text x="207.5" y="606.2" font-size="8.4" text-anchor="start" fill="#1c1c1c" textLength="52.82" lengthAdjust="spacingAndGlyphs" stroke="#1c1c1c" stroke-width="0.18" >Annexin V+/PI+</text>
<rect x="272.4" y="601.2" width="4.8" height="4.8" fill="#3ab54a"/>
<text x="280.5" y="606.2" font-size="8.4" text-anchor="start" fill="#1c1c1c" textLength="39.08" lengthAdjust="spacingAndGlyphs" stroke="#1c1c1c" stroke-width="0.18" >Annexin V+</text>
<rect x="331" y="601.2" width="4.8" height="4.8" fill="#12528a"/>
<text x="339.5" y="606.2" font-size="8.4" text-anchor="start" fill="#1c1c1c" textLength="20.99" lengthAdjust="spacingAndGlyphs" stroke="#1c1c1c" stroke-width="0.18" >Viable</text>
</svg></body></html>
